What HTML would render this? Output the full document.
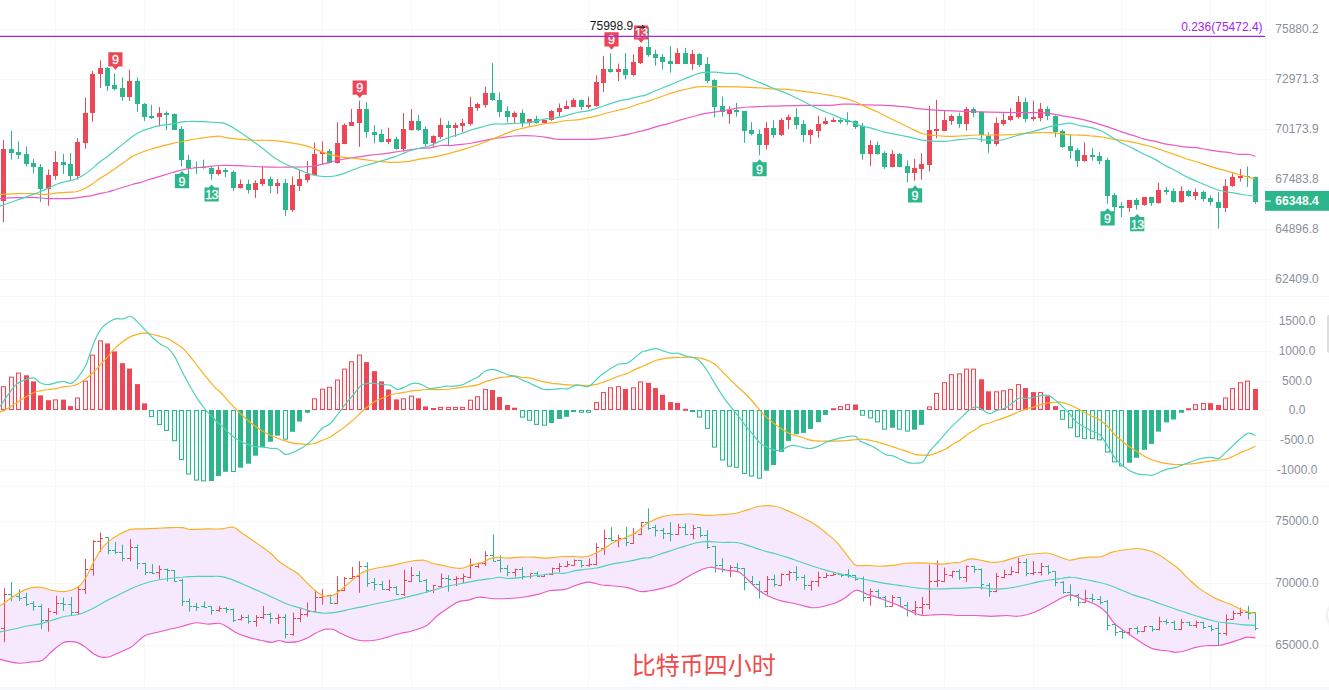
<!DOCTYPE html>
<html lang="zh"><head><meta charset="utf-8"><title>BTC 4H</title>
<style>html,body{margin:0;padding:0;background:#fff;width:1329px;height:690px;overflow:hidden}</style>
</head><body>
<svg width="1329" height="690" viewBox="0 0 1329 690" style="position:absolute;left:0;top:0">
<g stroke="#f5f7f9" stroke-width="1" fill="none"><line x1="55.5" y1="0" x2="55.5" y2="687"/><line x1="144.5" y1="0" x2="144.5" y2="687"/><line x1="233.5" y1="0" x2="233.5" y2="687"/><line x1="322.5" y1="0" x2="322.5" y2="687"/><line x1="411.5" y1="0" x2="411.5" y2="687"/><line x1="499.5" y1="0" x2="499.5" y2="687"/><line x1="588.5" y1="0" x2="588.5" y2="687"/><line x1="677.5" y1="0" x2="677.5" y2="687"/><line x1="766.5" y1="0" x2="766.5" y2="687"/><line x1="855.5" y1="0" x2="855.5" y2="687"/><line x1="944.5" y1="0" x2="944.5" y2="687"/><line x1="1033.5" y1="0" x2="1033.5" y2="687"/><line x1="1121.5" y1="0" x2="1121.5" y2="687"/><line x1="1210.5" y1="0" x2="1210.5" y2="687"/><line x1="0" y1="29.5" x2="1271" y2="29.5"/><line x1="0" y1="79.5" x2="1271" y2="79.5"/><line x1="0" y1="129.5" x2="1271" y2="129.5"/><line x1="0" y1="179.5" x2="1271" y2="179.5"/><line x1="0" y1="229.5" x2="1271" y2="229.5"/><line x1="0" y1="279.5" x2="1271" y2="279.5"/><line x1="0" y1="321.5" x2="1271" y2="321.5"/><line x1="0" y1="351.5" x2="1271" y2="351.5"/><line x1="0" y1="381.5" x2="1271" y2="381.5"/><line x1="0" y1="410.5" x2="1271" y2="410.5"/><line x1="0" y1="440.5" x2="1271" y2="440.5"/><line x1="0" y1="470.5" x2="1271" y2="470.5"/><line x1="0" y1="521.5" x2="1271" y2="521.5"/><line x1="0" y1="583.5" x2="1271" y2="583.5"/><line x1="0" y1="645.5" x2="1271" y2="645.5"/><line x1="0" y1="296.5" x2="1329" y2="296.5"/><line x1="0" y1="486.5" x2="1329" y2="486.5"/><line x1="0" y1="687.5" x2="1329" y2="687.5"/><line x1="1265.5" y1="0" x2="1265.5" y2="687"/></g>
<rect x="0" y="687.7" width="1329" height="2.3" fill="#f7f8f9"/>
<path d="M0.0 605.9 L13.0 596.7 L26.1 589.4 L39.1 587.1 L52.2 590.2 L65.2 591.5 L78.2 586.8 L86.1 577.2 L93.9 561.5 L101.7 548.5 L109.5 540.6 L117.4 535.4 L130.4 529.4 L143.5 528.9 L156.5 528.4 L169.5 527.6 L182.6 527.6 L190.4 529.4 L208.7 528.9 L221.7 528.9 L233.4 527.3 L242.6 533.6 L253.0 540.6 L260.8 545.9 L271.3 553.7 L279.1 561.5 L286.9 566.7 L297.3 573.2 L307.8 583.7 L315.6 591.0 L323.4 596.2 L325.0 596.2 L332.8 595.4 L340.6 590.2 L351.1 581.1 L358.9 574.6 L366.7 570.6 L377.2 568.0 L390.2 565.9 L403.2 562.8 L413.7 560.7 L424.1 560.2 L431.9 563.3 L442.4 565.4 L455.4 568.0 L463.2 568.0 L471.1 564.9 L481.5 562.8 L489.3 558.9 L497.1 557.1 L507.6 558.1 L520.6 557.1 L533.7 557.1 L546.7 558.1 L559.7 556.8 L572.8 556.3 L580.6 557.1 L588.4 556.3 L596.3 552.9 L604.1 548.5 L611.9 543.3 L619.7 539.9 L627.6 536.7 L635.4 532.8 L643.2 526.3 L649.7 521.9 L663.0 516.4 L676.1 514.6 L691.7 514.0 L707.4 515.3 L723.0 514.6 L736.1 513.3 L746.5 510.1 L759.5 506.2 L775.2 506.2 L785.6 509.9 L796.1 514.6 L806.5 519.8 L816.9 525.8 L827.4 534.1 L835.2 540.6 L843.0 549.8 L850.8 560.2 L856.1 565.4 L866.5 565.4 L879.5 566.2 L892.6 565.4 L905.6 563.3 L918.6 562.8 L931.7 563.3 L942.1 564.1 L952.6 562.8 L960.0 562.3 L970.4 558.9 L980.9 560.2 L991.3 562.3 L1001.7 561.5 L1012.2 558.4 L1022.6 555.5 L1035.6 553.7 L1048.7 553.2 L1059.1 556.8 L1069.5 560.2 L1080.0 558.1 L1090.4 557.1 L1100.8 556.8 L1111.3 552.4 L1121.7 550.3 L1137.4 548.5 L1147.8 550.3 L1158.2 554.5 L1168.7 561.5 L1179.1 569.3 L1189.5 579.8 L1200.0 588.9 L1210.4 595.4 L1220.8 600.6 L1231.3 604.5 L1241.7 609.8 L1249.5 612.4 L1255.5 613.2 L1255.5 637.9 L1246.9 637.1 L1239.1 639.8 L1228.6 643.1 L1218.2 645.5 L1205.2 645.8 L1194.7 647.6 L1184.3 651.0 L1175.2 652.3 L1168.7 651.0 L1160.8 650.2 L1153.0 648.9 L1145.2 645.0 L1137.4 639.8 L1129.5 634.5 L1121.7 629.3 L1113.9 622.8 L1106.1 612.4 L1098.2 605.9 L1087.8 601.4 L1077.4 597.2 L1069.5 594.9 L1059.1 599.3 L1048.7 605.1 L1038.2 610.5 L1027.8 614.5 L1017.4 616.3 L1006.9 615.5 L991.3 616.3 L975.6 615.5 L960.0 615.5 L952.6 615.0 L942.1 614.5 L931.7 615.0 L922.6 615.5 L916.0 613.7 L908.2 610.3 L897.8 605.1 L887.4 601.2 L876.9 597.2 L866.5 594.1 L856.1 590.2 L845.6 597.5 L837.8 601.9 L830.0 604.5 L819.5 607.2 L811.7 607.7 L803.9 605.9 L793.5 603.2 L783.0 601.4 L772.6 598.0 L762.2 592.8 L754.3 586.3 L746.5 578.5 L738.7 571.9 L728.2 570.6 L717.8 568.6 L710.0 567.2 L702.2 569.3 L689.1 575.9 L676.1 583.7 L663.0 588.1 L649.7 590.7 L640.6 591.5 L627.6 587.6 L611.9 585.8 L601.5 585.0 L591.0 582.4 L585.8 582.4 L575.4 585.5 L565.0 589.4 L549.3 590.7 L538.9 594.1 L523.2 597.2 L507.6 598.5 L491.9 598.5 L478.9 597.2 L468.5 600.1 L458.0 601.9 L447.6 608.5 L437.2 615.8 L426.7 625.4 L411.1 631.2 L400.6 633.2 L387.6 637.1 L374.6 640.3 L358.9 640.3 L343.3 634.5 L332.8 629.3 L325.0 629.3 L323.4 629.8 L315.6 633.2 L307.8 637.7 L297.3 641.6 L286.9 642.4 L279.1 640.5 L271.3 642.4 L260.8 640.3 L247.8 637.1 L234.7 631.9 L226.9 626.7 L219.1 623.3 L208.7 624.1 L195.6 622.8 L182.6 626.2 L169.5 629.3 L156.5 632.5 L146.1 635.1 L138.2 641.1 L130.4 647.6 L117.4 653.3 L109.5 656.7 L101.7 657.2 L93.9 654.1 L86.1 647.6 L78.2 642.9 L70.4 641.6 L62.6 642.9 L52.2 651.0 L41.7 660.6 L31.3 661.9 L19.6 663.2 L10.4 661.9 L0.0 659.3 Z" fill="#f6e8fd" stroke="none"/>
<g stroke-width="1" fill="none"><path d="M4.50 588.2V642.2M4.50 594.5h2.6M4.50 628.5h-3.5" stroke="#eb4757"/><path d="M11.50 582.0V601.4M11.50 596.5h2.6M11.50 594.5h-3.5" stroke="#2db58c"/><path d="M19.50 589.1V601.0M19.50 598.5h2.6M19.50 596.5h-3.5" stroke="#2db58c"/><path d="M26.50 592.6V606.1M26.50 604.5h2.6M26.50 597.5h-3.5" stroke="#2db58c"/><path d="M33.50 601.0V610.6M33.50 606.5h2.6M33.50 603.5h-3.5" stroke="#2db58c"/><path d="M41.50 604.3V629.1M41.50 620.5h2.6M41.50 606.5h-3.5" stroke="#2db58c"/><path d="M48.50 608.0V631.7M48.50 611.5h2.6M48.50 620.5h-3.5" stroke="#eb4757"/><path d="M56.50 595.8V614.7M56.50 603.5h2.6M56.50 612.5h-3.5" stroke="#eb4757"/><path d="M63.50 597.5V611.0M63.50 604.5h2.6M63.50 603.5h-3.5" stroke="#2db58c"/><path d="M71.50 597.0V615.7M71.50 612.5h2.6M71.50 604.5h-3.5" stroke="#2db58c"/><path d="M78.50 587.0V614.7M78.50 589.5h2.6M78.50 612.5h-3.5" stroke="#eb4757"/><path d="M85.50 559.0V594.0M85.50 569.5h2.6M85.50 589.5h-3.5" stroke="#eb4757"/><path d="M93.50 540.1V575.7M93.50 541.5h2.6M93.50 569.5h-3.5" stroke="#eb4757"/><path d="M100.50 532.5V552.1M100.50 538.5h2.6M100.50 541.5h-3.5" stroke="#eb4757"/><path d="M108.50 537.3V554.3M108.50 550.5h2.6M108.50 537.5h-3.5" stroke="#2db58c"/><path d="M115.50 541.9V553.9M115.50 552.5h2.6M115.50 550.5h-3.5" stroke="#2db58c"/><path d="M122.50 544.7V561.3M122.50 558.5h2.6M122.50 552.5h-3.5" stroke="#2db58c"/><path d="M130.50 539.1V561.3M130.50 547.5h2.6M130.50 558.5h-3.5" stroke="#eb4757"/><path d="M137.50 544.7V568.9M137.50 563.5h2.6M137.50 547.5h-3.5" stroke="#2db58c"/><path d="M145.50 562.8V575.2M145.50 572.5h2.6M145.50 563.5h-3.5" stroke="#2db58c"/><path d="M152.50 564.0V573.9M152.50 573.5h2.6M152.50 572.5h-3.5" stroke="#2db58c"/><path d="M159.50 565.5V578.9M159.50 569.5h2.6M159.50 572.5h-3.5" stroke="#eb4757"/><path d="M167.50 568.5V581.5M167.50 570.5h2.6M167.50 569.5h-3.5" stroke="#2db58c"/><path d="M174.50 570.0V581.5M174.50 581.5h2.6M174.50 570.5h-3.5" stroke="#2db58c"/><path d="M182.50 578.8V606.1M182.50 601.5h2.6M182.50 580.5h-3.5" stroke="#2db58c"/><path d="M189.50 598.4V611.7M189.50 606.5h2.6M189.50 601.5h-3.5" stroke="#2db58c"/><path d="M196.50 602.8V610.9M196.50 607.5h2.6M196.50 606.5h-3.5" stroke="#2db58c"/><path d="M204.50 601.4V607.5M204.50 607.5h2.6M204.50 606.5h-3.5" stroke="#2db58c"/><path d="M211.50 606.3V614.7M211.50 610.5h2.6M211.50 606.5h-3.5" stroke="#2db58c"/><path d="M219.50 605.9V611.9M219.50 608.5h2.6M219.50 610.5h-3.5" stroke="#eb4757"/><path d="M226.50 607.1V613.1M226.50 609.5h2.6M226.50 608.5h-3.5" stroke="#2db58c"/><path d="M233.50 608.6V622.2M233.50 620.5h2.6M233.50 609.5h-3.5" stroke="#2db58c"/><path d="M241.50 614.6V620.5M241.50 617.5h2.6M241.50 619.5h-3.5" stroke="#eb4757"/><path d="M248.50 614.6V623.7M248.50 621.5h2.6M248.50 617.5h-3.5" stroke="#2db58c"/><path d="M256.50 615.1V626.7M256.50 617.5h2.6M256.50 621.5h-3.5" stroke="#eb4757"/><path d="M263.50 606.0V618.9M263.50 614.5h2.6M263.50 617.5h-3.5" stroke="#eb4757"/><path d="M270.50 612.6V623.6M270.50 618.5h2.6M270.50 614.5h-3.5" stroke="#2db58c"/><path d="M278.50 614.2V624.1M278.50 617.5h2.6M278.50 618.5h-3.5" stroke="#eb4757"/><path d="M285.50 614.2V638.2M285.50 634.5h2.6M285.50 617.5h-3.5" stroke="#2db58c"/><path d="M293.50 612.6V635.6M293.50 618.5h2.6M293.50 634.5h-3.5" stroke="#eb4757"/><path d="M300.50 608.3V622.2M300.50 614.5h2.6M300.50 618.5h-3.5" stroke="#eb4757"/><path d="M307.50 602.5V616.6M307.50 611.5h2.6M307.50 614.5h-3.5" stroke="#eb4757"/><path d="M315.50 589.9V611.8M315.50 597.5h2.6M315.50 611.5h-3.5" stroke="#eb4757"/><path d="M322.50 589.1V604.7M322.50 596.5h2.6M322.50 597.5h-3.5" stroke="#eb4757"/><path d="M330.50 594.3V604.1M330.50 603.5h2.6M330.50 595.5h-3.5" stroke="#2db58c"/><path d="M337.50 576.1V604.1M337.50 590.5h2.6M337.50 603.5h-3.5" stroke="#eb4757"/><path d="M344.50 576.9V591.0M344.50 578.5h2.6M344.50 590.5h-3.5" stroke="#eb4757"/><path d="M352.50 566.9V578.7M352.50 576.5h2.6M352.50 578.5h-3.5" stroke="#eb4757"/><path d="M359.50 561.1V592.8M359.50 566.5h2.6M359.50 576.5h-3.5" stroke="#eb4757"/><path d="M367.50 562.3V586.7M367.50 583.5h2.6M367.50 566.5h-3.5" stroke="#2db58c"/><path d="M374.50 578.0V590.4M374.50 584.5h2.6M374.50 582.5h-3.5" stroke="#2db58c"/><path d="M382.50 581.0V589.9M382.50 589.5h2.6M382.50 584.5h-3.5" stroke="#2db58c"/><path d="M389.50 579.8V591.0M389.50 587.5h2.6M389.50 589.5h-3.5" stroke="#eb4757"/><path d="M396.50 585.9V594.8M396.50 594.5h2.6M396.50 587.5h-3.5" stroke="#2db58c"/><path d="M404.50 569.8V596.0M404.50 580.5h2.6M404.50 594.5h-3.5" stroke="#eb4757"/><path d="M411.50 566.9V581.8M411.50 575.5h2.6M411.50 581.5h-3.5" stroke="#eb4757"/><path d="M419.50 571.1V582.1M419.50 581.5h2.6M419.50 575.5h-3.5" stroke="#2db58c"/><path d="M426.50 578.9V592.7M426.50 590.5h2.6M426.50 580.5h-3.5" stroke="#2db58c"/><path d="M433.50 585.0V593.1M433.50 585.5h2.6M433.50 590.5h-3.5" stroke="#eb4757"/><path d="M441.50 573.3V587.4M441.50 578.5h2.6M441.50 586.5h-3.5" stroke="#eb4757"/><path d="M448.50 575.2V591.7M448.50 579.5h2.6M448.50 578.5h-3.5" stroke="#2db58c"/><path d="M456.50 576.3V586.0M456.50 578.5h2.6M456.50 579.5h-3.5" stroke="#eb4757"/><path d="M463.50 573.7V583.1M463.50 576.5h2.6M463.50 578.5h-3.5" stroke="#eb4757"/><path d="M470.50 558.3V578.5M470.50 565.5h2.6M470.50 577.5h-3.5" stroke="#eb4757"/><path d="M478.50 562.5V568.2M478.50 563.5h2.6M478.50 566.5h-3.5" stroke="#eb4757"/><path d="M485.50 551.2V566.0M485.50 555.5h2.6M485.50 563.5h-3.5" stroke="#eb4757"/><path d="M493.50 534.5V561.3M493.50 561.5h2.6M493.50 555.5h-3.5" stroke="#2db58c"/><path d="M500.50 555.4V572.5M500.50 568.5h2.6M500.50 560.5h-3.5" stroke="#2db58c"/><path d="M507.50 565.0V576.2M507.50 572.5h2.6M507.50 568.5h-3.5" stroke="#2db58c"/><path d="M515.50 568.6V576.6M515.50 569.5h2.6M515.50 572.5h-3.5" stroke="#eb4757"/><path d="M522.50 567.1V579.5M522.50 576.5h2.6M522.50 569.5h-3.5" stroke="#2db58c"/><path d="M530.50 573.7V578.5M530.50 573.5h2.6M530.50 576.5h-3.5" stroke="#eb4757"/><path d="M537.50 571.5V577.0M537.50 576.5h2.6M537.50 573.5h-3.5" stroke="#2db58c"/><path d="M544.50 574.5V577.0M544.50 574.5h2.6M544.50 576.5h-3.5" stroke="#eb4757"/><path d="M552.50 567.6V575.2M552.50 568.5h2.6M552.50 574.5h-3.5" stroke="#eb4757"/><path d="M559.50 563.1V572.3M559.50 566.5h2.6M559.50 568.5h-3.5" stroke="#eb4757"/><path d="M567.50 561.0V566.9M567.50 564.5h2.6M567.50 566.5h-3.5" stroke="#eb4757"/><path d="M574.50 559.4V565.4M574.50 560.5h2.6M574.50 565.5h-3.5" stroke="#eb4757"/><path d="M581.50 560.3V567.5M581.50 565.5h2.6M581.50 560.5h-3.5" stroke="#2db58c"/><path d="M589.50 558.3V566.7M589.50 564.5h2.6M589.50 565.5h-3.5" stroke="#eb4757"/><path d="M596.50 543.2V565.4M596.50 547.5h2.6M596.50 564.5h-3.5" stroke="#eb4757"/><path d="M604.50 529.5V555.0M604.50 538.5h2.6M604.50 548.5h-3.5" stroke="#eb4757"/><path d="M611.50 527.3V541.3M611.50 540.5h2.6M611.50 538.5h-3.5" stroke="#2db58c"/><path d="M618.50 534.8V547.3M618.50 538.5h2.6M618.50 540.5h-3.5" stroke="#eb4757"/><path d="M626.50 527.2V546.2M626.50 542.5h2.6M626.50 538.5h-3.5" stroke="#2db58c"/><path d="M633.50 528.1V543.9M633.50 533.5h2.6M633.50 543.5h-3.5" stroke="#eb4757"/><path d="M641.50 522.0V535.2M641.50 522.5h2.6M641.50 534.5h-3.5" stroke="#eb4757"/><path d="M648.50 508.3V529.8M648.50 528.5h2.6M648.50 522.5h-3.5" stroke="#2db58c"/><path d="M655.50 524.8V536.3M655.50 530.5h2.6M655.50 527.5h-3.5" stroke="#2db58c"/><path d="M663.50 528.0V539.0M663.50 533.5h2.6M663.50 530.5h-3.5" stroke="#2db58c"/><path d="M670.50 522.2V541.4M670.50 534.5h2.6M670.50 533.5h-3.5" stroke="#2db58c"/><path d="M678.50 523.7V535.2M678.50 527.5h2.6M678.50 534.5h-3.5" stroke="#eb4757"/><path d="M685.50 523.4V535.2M685.50 534.5h2.6M685.50 527.5h-3.5" stroke="#2db58c"/><path d="M693.50 524.8V539.3M693.50 528.5h2.6M693.50 534.5h-3.5" stroke="#eb4757"/><path d="M700.50 527.3V537.3M700.50 535.5h2.6M700.50 527.5h-3.5" stroke="#2db58c"/><path d="M707.50 530.1V548.8M707.50 547.5h2.6M707.50 535.5h-3.5" stroke="#2db58c"/><path d="M715.50 546.0V572.7M715.50 565.5h2.6M715.50 546.5h-3.5" stroke="#2db58c"/><path d="M722.50 558.2V572.3M722.50 569.5h2.6M722.50 565.5h-3.5" stroke="#2db58c"/><path d="M730.50 565.1V577.1M730.50 567.5h2.6M730.50 570.5h-3.5" stroke="#eb4757"/><path d="M737.50 562.8V572.3M737.50 568.5h2.6M737.50 567.5h-3.5" stroke="#2db58c"/><path d="M744.50 568.2V590.2M744.50 582.5h2.6M744.50 568.5h-3.5" stroke="#2db58c"/><path d="M752.50 576.0V585.0M752.50 584.5h2.6M752.50 581.5h-3.5" stroke="#2db58c"/><path d="M759.50 581.1V598.5M759.50 591.5h2.6M759.50 584.5h-3.5" stroke="#2db58c"/><path d="M767.50 576.0V594.6M767.50 579.5h2.6M767.50 591.5h-3.5" stroke="#eb4757"/><path d="M774.50 574.7V586.7M774.50 584.5h2.6M774.50 579.5h-3.5" stroke="#2db58c"/><path d="M781.50 573.2V585.5M781.50 574.5h2.6M781.50 585.5h-3.5" stroke="#eb4757"/><path d="M789.50 570.8V580.7M789.50 572.5h2.6M789.50 574.5h-3.5" stroke="#eb4757"/><path d="M796.50 566.3V580.7M796.50 577.5h2.6M796.50 572.5h-3.5" stroke="#2db58c"/><path d="M804.50 574.7V589.7M804.50 585.5h2.6M804.50 577.5h-3.5" stroke="#2db58c"/><path d="M811.50 580.7V590.6M811.50 581.5h2.6M811.50 585.5h-3.5" stroke="#eb4757"/><path d="M818.50 571.6V586.7M818.50 577.5h2.6M818.50 581.5h-3.5" stroke="#eb4757"/><path d="M826.50 572.7V577.8M826.50 575.5h2.6M826.50 577.5h-3.5" stroke="#eb4757"/><path d="M833.50 572.7V575.6M833.50 574.5h2.6M833.50 575.5h-3.5" stroke="#eb4757"/><path d="M841.50 573.6V577.2M841.50 575.5h2.6M841.50 574.5h-3.5" stroke="#2db58c"/><path d="M848.50 569.2V577.8M848.50 575.5h2.6M848.50 574.5h-3.5" stroke="#2db58c"/><path d="M855.50 574.8V580.7M855.50 579.5h2.6M855.50 575.5h-3.5" stroke="#2db58c"/><path d="M863.50 576.5V601.5M863.50 597.5h2.6M863.50 578.5h-3.5" stroke="#2db58c"/><path d="M870.50 588.5V605.6M870.50 591.5h2.6M870.50 597.5h-3.5" stroke="#eb4757"/><path d="M878.50 589.2V598.1M878.50 597.5h2.6M878.50 591.5h-3.5" stroke="#2db58c"/><path d="M885.50 595.8V607.5M885.50 606.5h2.6M885.50 597.5h-3.5" stroke="#2db58c"/><path d="M892.50 595.1V606.5M892.50 597.5h2.6M892.50 606.5h-3.5" stroke="#eb4757"/><path d="M900.50 597.0V606.5M900.50 606.5h2.6M900.50 597.5h-3.5" stroke="#2db58c"/><path d="M907.50 602.0V616.5M907.50 610.5h2.6M907.50 605.5h-3.5" stroke="#2db58c"/><path d="M915.50 600.9V615.4M915.50 607.5h2.6M915.50 610.5h-3.5" stroke="#eb4757"/><path d="M922.50 597.0V614.6M922.50 604.5h2.6M922.50 607.5h-3.5" stroke="#eb4757"/><path d="M929.50 564.6V609.3M929.50 581.5h2.6M929.50 604.5h-3.5" stroke="#eb4757"/><path d="M937.50 560.5V587.1M937.50 580.5h2.6M937.50 581.5h-3.5" stroke="#eb4757"/><path d="M944.50 567.6V582.2M944.50 574.5h2.6M944.50 581.5h-3.5" stroke="#eb4757"/><path d="M952.50 570.7V577.8M952.50 571.5h2.6M952.50 575.5h-3.5" stroke="#eb4757"/><path d="M959.50 569.4V579.9M959.50 577.5h2.6M959.50 571.5h-3.5" stroke="#2db58c"/><path d="M966.50 565.3V581.9M966.50 566.5h2.6M966.50 577.5h-3.5" stroke="#eb4757"/><path d="M974.50 565.8V572.6M974.50 569.5h2.6M974.50 566.5h-3.5" stroke="#2db58c"/><path d="M981.50 568.4V589.6M981.50 584.5h2.6M981.50 569.5h-3.5" stroke="#2db58c"/><path d="M989.50 583.0V596.8M989.50 591.5h2.6M989.50 585.5h-3.5" stroke="#2db58c"/><path d="M996.50 572.9V592.2M996.50 576.5h2.6M996.50 591.5h-3.5" stroke="#eb4757"/><path d="M1004.50 569.9V578.5M1004.50 574.5h2.6M1004.50 577.5h-3.5" stroke="#eb4757"/><path d="M1011.50 566.4V575.2M1011.50 571.5h2.6M1011.50 574.5h-3.5" stroke="#eb4757"/><path d="M1018.50 557.8V573.6M1018.50 562.5h2.6M1018.50 572.5h-3.5" stroke="#eb4757"/><path d="M1026.50 558.8V576.2M1026.50 573.5h2.6M1026.50 562.5h-3.5" stroke="#2db58c"/><path d="M1033.50 561.1V575.2M1033.50 572.5h2.6M1033.50 573.5h-3.5" stroke="#eb4757"/><path d="M1041.50 562.8V575.4M1041.50 566.5h2.6M1041.50 572.5h-3.5" stroke="#eb4757"/><path d="M1048.50 565.1V574.7M1048.50 572.5h2.6M1048.50 566.5h-3.5" stroke="#2db58c"/><path d="M1055.50 571.4V586.3M1055.50 582.5h2.6M1055.50 571.5h-3.5" stroke="#2db58c"/><path d="M1063.50 581.1V593.6M1063.50 592.5h2.6M1063.50 582.5h-3.5" stroke="#2db58c"/><path d="M1070.50 584.3V600.9M1070.50 595.5h2.6M1070.50 592.5h-3.5" stroke="#2db58c"/><path d="M1078.50 593.7V606.3M1078.50 602.5h2.6M1078.50 595.5h-3.5" stroke="#2db58c"/><path d="M1085.50 589.8V602.9M1085.50 598.5h2.6M1085.50 602.5h-3.5" stroke="#eb4757"/><path d="M1092.50 593.7V602.1M1092.50 599.5h2.6M1092.50 598.5h-3.5" stroke="#2db58c"/><path d="M1100.50 596.2V604.6M1100.50 602.5h2.6M1100.50 599.5h-3.5" stroke="#2db58c"/><path d="M1107.50 600.1V630.3M1107.50 625.5h2.6M1107.50 601.5h-3.5" stroke="#2db58c"/><path d="M1115.50 623.5V635.9M1115.50 632.5h2.6M1115.50 624.5h-3.5" stroke="#2db58c"/><path d="M1122.50 629.4V638.8M1122.50 632.5h2.6M1122.50 631.5h-3.5" stroke="#2db58c"/><path d="M1129.50 628.0V635.5M1129.50 628.5h2.6M1129.50 632.5h-3.5" stroke="#eb4757"/><path d="M1137.50 626.7V634.1M1137.50 631.5h2.6M1137.50 628.5h-3.5" stroke="#2db58c"/><path d="M1144.50 626.1V631.7M1144.50 626.5h2.6M1144.50 631.5h-3.5" stroke="#eb4757"/><path d="M1152.50 626.0V631.7M1152.50 629.5h2.6M1152.50 626.5h-3.5" stroke="#2db58c"/><path d="M1159.50 616.8V630.3M1159.50 621.5h2.6M1159.50 629.5h-3.5" stroke="#eb4757"/><path d="M1166.50 619.4V624.6M1166.50 622.5h2.6M1166.50 621.5h-3.5" stroke="#2db58c"/><path d="M1174.50 620.5V629.8M1174.50 629.5h2.6M1174.50 622.5h-3.5" stroke="#2db58c"/><path d="M1181.50 619.1V629.8M1181.50 622.5h2.6M1181.50 629.5h-3.5" stroke="#eb4757"/><path d="M1189.50 621.5V626.0M1189.50 625.5h2.6M1189.50 622.5h-3.5" stroke="#2db58c"/><path d="M1196.50 620.5V628.0M1196.50 622.5h2.6M1196.50 625.5h-3.5" stroke="#eb4757"/><path d="M1203.50 621.8V629.0M1203.50 627.5h2.6M1203.50 622.5h-3.5" stroke="#2db58c"/><path d="M1211.50 624.9V631.4M1211.50 629.5h2.6M1211.50 626.5h-3.5" stroke="#2db58c"/><path d="M1218.50 623.0V646.2M1218.50 633.5h2.6M1218.50 628.5h-3.5" stroke="#2db58c"/><path d="M1226.50 614.3V635.7M1226.50 619.5h2.6M1226.50 633.5h-3.5" stroke="#eb4757"/><path d="M1233.50 610.6V619.4M1233.50 613.5h2.6M1233.50 619.5h-3.5" stroke="#eb4757"/><path d="M1240.50 607.6V616.0M1240.50 612.5h2.6M1240.50 613.5h-3.5" stroke="#eb4757"/><path d="M1248.50 606.0V619.4M1248.50 613.5h2.6M1248.50 612.5h-3.5" stroke="#2db58c"/><path d="M1255.50 612.7V630.3M1255.50 628.5h2.6M1255.50 612.5h-3.5" stroke="#2db58c"/></g>
<path d="M0.0 631.9 C2.2 631.5 8.7 630.3 13.0 629.3 C17.4 628.4 21.7 627.1 26.1 626.2 C30.4 625.3 34.8 625.1 39.1 624.1 C43.5 623.1 47.8 621.5 52.2 620.2 C56.5 618.9 60.9 617.2 65.2 616.3 C69.6 615.3 73.9 615.6 78.2 614.5 C82.6 613.3 86.9 611.3 91.3 609.2 C95.6 607.2 100.0 604.2 104.3 601.9 C108.7 599.6 113.0 597.6 117.4 595.4 C121.7 593.2 126.1 590.9 130.4 588.9 C134.8 586.9 139.1 585.1 143.5 583.7 C147.8 582.2 152.1 581.2 156.5 580.3 C160.8 579.4 165.2 579.0 169.5 578.5 C173.9 577.9 178.2 577.5 182.6 577.2 C186.9 576.8 191.3 576.5 195.6 576.4 C200.0 576.2 204.3 576.3 208.7 576.4 C213.0 576.4 217.4 575.9 221.7 576.6 C226.0 577.3 230.4 578.9 234.7 580.6 C239.1 582.2 243.4 584.4 247.8 586.3 C252.1 588.2 256.5 590.1 260.8 592.0 C265.2 594.0 269.5 596.0 273.9 598.0 C278.2 600.0 282.6 602.4 286.9 604.0 C291.3 605.7 295.6 606.7 299.9 607.9 C304.3 609.2 309.1 610.7 313.0 611.6 C316.9 612.5 321.4 612.9 323.4 613.2 C325.4 613.4 323.0 613.3 325.0 613.2 C327.0 613.0 331.1 613.1 335.4 612.4 C339.8 611.7 345.9 610.1 351.1 609.0 C356.3 607.9 361.5 606.9 366.7 605.9 C371.9 604.8 377.2 603.5 382.4 602.5 C387.6 601.4 392.8 600.5 398.0 599.3 C403.2 598.2 408.5 596.7 413.7 595.4 C418.9 594.1 424.1 592.9 429.3 591.5 C434.5 590.1 439.8 588.1 445.0 586.8 C450.2 585.5 455.4 584.7 460.6 583.7 C465.8 582.6 471.1 581.4 476.3 580.6 C481.5 579.7 488.0 579.0 491.9 578.5 C495.8 577.9 497.1 577.2 499.8 577.2 C502.4 577.2 503.7 578.5 507.6 578.5 C511.5 578.5 518.0 577.7 523.2 577.2 C528.4 576.6 533.7 576.0 538.9 575.3 C544.1 574.7 550.2 573.6 554.5 573.2 C558.9 572.9 561.5 573.7 565.0 573.2 C568.4 572.8 571.9 571.3 575.4 570.6 C578.9 570.0 582.3 569.8 585.8 569.3 C589.3 568.9 591.9 568.9 596.3 568.0 C600.6 567.2 606.7 565.2 611.9 564.1 C617.1 563.0 622.3 562.5 627.6 561.5 C632.8 560.5 639.5 558.8 643.2 558.1 C646.9 557.5 646.3 558.6 650.0 557.6 C653.7 556.6 660.4 554.1 665.6 552.4 C670.9 550.6 676.1 548.8 681.3 547.2 C686.5 545.6 692.6 543.7 696.9 542.7 C701.3 541.8 703.0 541.5 707.4 541.4 C711.7 541.4 718.2 542.3 723.0 542.5 C727.8 542.6 731.7 541.9 736.1 542.5 C740.4 543.0 744.8 544.6 749.1 545.9 C753.5 547.2 757.8 549.0 762.2 550.3 C766.5 551.6 770.8 552.5 775.2 553.7 C779.5 554.9 783.9 556.2 788.2 557.6 C792.6 559.0 796.9 560.8 801.3 562.3 C805.6 563.8 810.0 565.3 814.3 566.7 C818.7 568.1 823.0 569.4 827.4 570.6 C831.7 571.9 836.1 572.9 840.4 574.0 C844.7 575.1 849.1 576.2 853.4 577.2 C857.8 578.1 862.1 578.9 866.5 579.8 C870.8 580.6 875.2 581.6 879.5 582.4 C883.9 583.2 888.2 583.8 892.6 584.5 C896.9 585.1 901.3 585.7 905.6 586.3 C910.0 586.9 914.7 587.7 918.6 588.1 C922.6 588.5 925.2 588.8 929.1 588.9 C933.0 589.0 938.2 589.0 942.1 588.9 C946.0 588.8 949.6 588.5 952.6 588.4 C955.5 588.3 957.0 588.5 960.0 588.4 C963.0 588.2 967.0 587.7 970.4 587.6 C973.9 587.5 977.4 587.4 980.9 587.6 C984.3 587.8 987.8 588.7 991.3 588.9 C994.8 589.1 998.3 589.1 1001.7 588.9 C1005.2 588.7 1008.3 588.2 1012.2 587.6 C1016.1 586.9 1020.9 585.9 1025.2 585.0 C1029.6 584.0 1033.9 582.7 1038.2 581.9 C1042.6 581.0 1047.4 580.3 1051.3 579.8 C1055.2 579.2 1058.5 578.9 1061.7 578.5 C1065.0 578.0 1067.4 577.1 1070.9 577.2 C1074.3 577.2 1078.5 578.2 1082.6 579.0 C1086.7 579.7 1091.3 580.6 1095.6 581.6 C1100.0 582.6 1104.3 583.5 1108.7 585.0 C1113.0 586.4 1117.4 588.5 1121.7 590.2 C1126.1 591.9 1130.4 593.9 1134.8 595.4 C1139.1 596.9 1143.4 597.9 1147.8 599.3 C1152.1 600.8 1156.5 602.5 1160.8 604.0 C1165.2 605.5 1169.5 607.0 1173.9 608.5 C1178.2 609.9 1182.6 611.5 1186.9 612.9 C1191.3 614.3 1195.6 615.8 1200.0 617.1 C1204.3 618.4 1209.5 619.8 1213.0 620.7 C1216.5 621.6 1217.8 621.8 1220.8 622.3 C1223.9 622.7 1227.8 622.9 1231.3 623.3 C1234.7 623.7 1237.6 624.3 1241.7 624.6 C1245.7 625.0 1253.2 625.3 1255.5 625.4" fill="none" stroke="#4fd1b9" stroke-width="1.15"/>
<path d="M0.0 605.9 C2.2 604.3 8.7 599.5 13.0 596.7 C17.4 594.0 21.7 591.0 26.1 589.4 C30.4 587.8 34.8 586.9 39.1 587.1 C43.5 587.2 47.8 589.5 52.2 590.2 C56.5 590.9 60.9 592.1 65.2 591.5 C69.6 590.9 74.8 589.2 78.2 586.8 C81.7 584.4 83.5 581.4 86.1 577.2 C88.7 572.9 91.3 566.3 93.9 561.5 C96.5 556.7 99.1 551.9 101.7 548.5 C104.3 545.0 106.9 542.8 109.5 540.6 C112.2 538.5 113.9 537.3 117.4 535.4 C120.8 533.6 126.1 530.5 130.4 529.4 C134.8 528.3 139.1 529.1 143.5 528.9 C147.8 528.7 152.1 528.6 156.5 528.4 C160.8 528.2 165.2 527.7 169.5 527.6 C173.9 527.5 179.1 527.3 182.6 527.6 C186.1 527.9 186.1 529.2 190.4 529.4 C194.7 529.6 203.4 529.0 208.7 528.9 C213.9 528.8 217.6 529.2 221.7 528.9 C225.8 528.6 230.0 526.6 233.4 527.3 C236.9 528.1 239.3 531.4 242.6 533.6 C245.8 535.8 250.0 538.6 253.0 540.6 C256.0 542.7 257.8 543.7 260.8 545.9 C263.9 548.0 268.2 551.1 271.3 553.7 C274.3 556.3 276.5 559.3 279.1 561.5 C281.7 563.7 283.9 564.8 286.9 566.7 C289.9 568.7 293.9 570.4 297.3 573.2 C300.8 576.1 304.7 580.7 307.8 583.7 C310.8 586.6 313.0 588.9 315.6 591.0 C318.2 593.1 321.9 595.3 323.4 596.2 C325.0 597.1 323.4 596.3 325.0 596.2 C326.6 596.1 330.2 596.4 332.8 595.4 C335.4 594.4 337.6 592.6 340.6 590.2 C343.7 587.8 348.0 583.7 351.1 581.1 C354.1 578.5 356.3 576.3 358.9 574.6 C361.5 572.8 363.7 571.7 366.7 570.6 C369.8 569.6 373.3 568.8 377.2 568.0 C381.1 567.2 385.9 566.8 390.2 565.9 C394.6 565.1 399.3 563.7 403.2 562.8 C407.2 561.9 410.2 561.2 413.7 560.7 C417.2 560.3 421.1 559.8 424.1 560.2 C427.2 560.6 428.9 562.5 431.9 563.3 C435.0 564.2 438.5 564.6 442.4 565.4 C446.3 566.2 451.9 567.6 455.4 568.0 C458.9 568.5 460.6 568.6 463.2 568.0 C465.8 567.5 468.0 565.8 471.1 564.9 C474.1 564.0 478.5 563.8 481.5 562.8 C484.5 561.8 486.7 559.9 489.3 558.9 C491.9 557.9 494.1 557.2 497.1 557.1 C500.2 556.9 503.7 558.1 507.6 558.1 C511.5 558.1 516.3 557.3 520.6 557.1 C525.0 556.9 529.3 556.9 533.7 557.1 C538.0 557.3 542.4 558.2 546.7 558.1 C551.0 558.1 555.4 557.1 559.7 556.8 C564.1 556.5 569.3 556.3 572.8 556.3 C576.3 556.3 578.0 557.1 580.6 557.1 C583.2 557.1 585.8 557.0 588.4 556.3 C591.0 555.6 593.6 554.2 596.3 552.9 C598.9 551.6 601.5 550.1 604.1 548.5 C606.7 546.9 609.3 544.7 611.9 543.3 C614.5 541.8 617.1 540.9 619.7 539.9 C622.3 538.8 624.9 537.9 627.6 536.7 C630.2 535.6 632.8 534.6 635.4 532.8 C638.0 531.1 640.8 528.1 643.2 526.3 C645.6 524.5 646.4 523.5 649.7 521.9 C653.0 520.2 658.6 517.6 663.0 516.4 C667.4 515.2 671.3 515.0 676.1 514.6 C680.9 514.2 686.5 513.9 691.7 514.0 C696.9 514.2 702.2 515.3 707.4 515.3 C712.6 515.4 718.2 514.9 723.0 514.6 C727.8 514.2 732.2 514.0 736.1 513.3 C740.0 512.5 742.6 511.3 746.5 510.1 C750.4 509.0 754.8 506.9 759.5 506.2 C764.3 505.6 770.8 505.6 775.2 506.2 C779.5 506.8 782.2 508.5 785.6 509.9 C789.1 511.3 792.6 512.9 796.1 514.6 C799.5 516.2 803.0 517.9 806.5 519.8 C810.0 521.6 813.4 523.4 816.9 525.8 C820.4 528.2 824.3 531.6 827.4 534.1 C830.4 536.6 832.6 538.0 835.2 540.6 C837.8 543.3 840.4 546.5 843.0 549.8 C845.6 553.0 848.7 557.6 850.8 560.2 C853.0 562.8 853.4 564.6 856.1 565.4 C858.7 566.3 862.6 565.3 866.5 565.4 C870.4 565.6 875.2 566.2 879.5 566.2 C883.9 566.2 888.2 565.9 892.6 565.4 C896.9 564.9 901.3 563.8 905.6 563.3 C910.0 562.9 914.3 562.8 918.6 562.8 C923.0 562.8 927.8 563.1 931.7 563.3 C935.6 563.6 938.6 564.2 942.1 564.1 C945.6 564.0 949.6 563.1 952.6 562.8 C955.5 562.5 957.0 562.9 960.0 562.3 C963.0 561.6 967.0 559.2 970.4 558.9 C973.9 558.6 977.4 559.6 980.9 560.2 C984.3 560.8 987.8 562.1 991.3 562.3 C994.8 562.5 998.3 562.2 1001.7 561.5 C1005.2 560.9 1008.7 559.4 1012.2 558.4 C1015.6 557.4 1018.7 556.3 1022.6 555.5 C1026.5 554.7 1031.3 554.1 1035.6 553.7 C1040.0 553.3 1044.8 552.6 1048.7 553.2 C1052.6 553.7 1055.6 555.6 1059.1 556.8 C1062.6 558.0 1066.1 560.0 1069.5 560.2 C1073.0 560.4 1076.5 558.6 1080.0 558.1 C1083.5 557.6 1086.9 557.3 1090.4 557.1 C1093.9 556.9 1097.4 557.6 1100.8 556.8 C1104.3 556.0 1107.8 553.5 1111.3 552.4 C1114.8 551.3 1117.4 550.9 1121.7 550.3 C1126.1 549.6 1133.0 548.5 1137.4 548.5 C1141.7 548.5 1144.3 549.3 1147.8 550.3 C1151.3 551.3 1154.7 552.6 1158.2 554.5 C1161.7 556.3 1165.2 559.0 1168.7 561.5 C1172.1 564.0 1175.6 566.3 1179.1 569.3 C1182.6 572.4 1186.0 576.5 1189.5 579.8 C1193.0 583.0 1196.5 586.3 1200.0 588.9 C1203.4 591.5 1206.9 593.5 1210.4 595.4 C1213.9 597.4 1217.3 599.1 1220.8 600.6 C1224.3 602.2 1227.8 603.0 1231.3 604.5 C1234.7 606.1 1238.6 608.5 1241.7 609.8 C1244.7 611.1 1247.2 611.8 1249.5 612.4 C1251.8 612.9 1254.5 613.0 1255.5 613.2" fill="none" stroke="#f9b120" stroke-width="1.15"/>
<path d="M0.0 659.3 C1.7 659.8 7.2 661.3 10.4 661.9 C13.7 662.6 16.1 663.2 19.6 663.2 C23.0 663.2 27.6 662.4 31.3 661.9 C35.0 661.5 38.3 662.4 41.7 660.6 C45.2 658.8 48.7 653.9 52.2 651.0 C55.6 648.0 59.6 644.5 62.6 642.9 C65.6 641.3 67.8 641.6 70.4 641.6 C73.0 641.6 75.6 641.9 78.2 642.9 C80.9 643.9 83.5 645.7 86.1 647.6 C88.7 649.5 91.3 652.5 93.9 654.1 C96.5 655.7 99.1 656.8 101.7 657.2 C104.3 657.7 106.9 657.4 109.5 656.7 C112.2 656.1 113.9 654.8 117.4 653.3 C120.8 651.8 126.9 649.6 130.4 647.6 C133.9 645.5 135.6 643.1 138.2 641.1 C140.8 639.0 143.0 636.5 146.1 635.1 C149.1 633.6 152.6 633.4 156.5 632.5 C160.4 631.5 165.2 630.4 169.5 629.3 C173.9 628.3 178.2 627.3 182.6 626.2 C186.9 625.1 191.3 623.2 195.6 622.8 C200.0 622.5 204.7 624.0 208.7 624.1 C212.6 624.2 216.0 622.9 219.1 623.3 C222.1 623.8 224.3 625.3 226.9 626.7 C229.5 628.2 231.3 630.2 234.7 631.9 C238.2 633.7 243.4 635.8 247.8 637.1 C252.1 638.5 256.9 639.4 260.8 640.3 C264.7 641.1 268.2 642.3 271.3 642.4 C274.3 642.4 276.5 640.5 279.1 640.5 C281.7 640.5 283.9 642.2 286.9 642.4 C289.9 642.5 293.9 642.4 297.3 641.6 C300.8 640.8 304.7 639.1 307.8 637.7 C310.8 636.3 313.0 634.5 315.6 633.2 C318.2 631.9 321.9 630.5 323.4 629.8 C325.0 629.2 323.4 629.4 325.0 629.3 C326.6 629.2 329.8 628.5 332.8 629.3 C335.9 630.2 338.9 632.7 343.3 634.5 C347.6 636.4 353.7 639.3 358.9 640.3 C364.1 641.2 369.8 640.8 374.6 640.3 C379.3 639.8 383.3 638.3 387.6 637.1 C391.9 636.0 396.7 634.2 400.6 633.2 C404.6 632.2 406.7 632.5 411.1 631.2 C415.4 629.8 422.4 628.0 426.7 625.4 C431.1 622.8 433.7 618.6 437.2 615.8 C440.6 612.9 444.1 610.8 447.6 608.5 C451.1 606.2 454.5 603.3 458.0 601.9 C461.5 600.5 465.0 600.9 468.5 600.1 C471.9 599.3 475.0 597.5 478.9 597.2 C482.8 597.0 487.1 598.3 491.9 598.5 C496.7 598.8 502.4 598.8 507.6 598.5 C512.8 598.3 518.0 598.0 523.2 597.2 C528.4 596.5 534.5 595.2 538.9 594.1 C543.2 593.0 545.0 591.5 549.3 590.7 C553.7 589.9 560.6 590.3 565.0 589.4 C569.3 588.5 571.9 586.7 575.4 585.5 C578.9 584.3 583.2 582.9 585.8 582.4 C588.4 581.9 588.4 581.9 591.0 582.4 C593.6 582.8 598.0 584.4 601.5 585.0 C605.0 585.5 607.6 585.3 611.9 585.8 C616.3 586.2 622.8 586.6 627.6 587.6 C632.3 588.5 636.9 591.0 640.6 591.5 C644.3 592.0 646.0 591.3 649.7 590.7 C653.5 590.2 658.6 589.3 663.0 588.1 C667.4 586.9 671.7 585.7 676.1 583.7 C680.4 581.6 684.8 578.2 689.1 575.9 C693.5 573.5 698.7 570.8 702.2 569.3 C705.6 567.9 707.4 567.4 710.0 567.2 C712.6 567.1 714.8 568.0 717.8 568.6 C720.9 569.1 724.8 570.1 728.2 570.6 C731.7 571.2 735.6 570.6 738.7 571.9 C741.7 573.2 743.9 576.1 746.5 578.5 C749.1 580.9 751.7 583.9 754.3 586.3 C756.9 588.7 759.1 590.9 762.2 592.8 C765.2 594.8 769.1 596.6 772.6 598.0 C776.1 599.5 779.5 600.5 783.0 601.4 C786.5 602.3 790.0 602.5 793.5 603.2 C796.9 604.0 800.8 605.1 803.9 605.9 C806.9 606.6 809.1 607.5 811.7 607.7 C814.3 607.9 816.5 607.7 819.5 607.2 C822.6 606.6 826.9 605.4 830.0 604.5 C833.0 603.7 835.2 603.1 837.8 601.9 C840.4 600.8 842.6 599.5 845.6 597.5 C848.7 595.5 852.6 590.8 856.1 590.2 C859.5 589.6 863.0 592.9 866.5 594.1 C870.0 595.3 873.4 596.1 876.9 597.2 C880.4 598.4 883.9 599.9 887.4 601.2 C890.8 602.5 894.3 603.5 897.8 605.1 C901.3 606.6 905.2 608.8 908.2 610.3 C911.3 611.7 913.6 612.8 916.0 613.7 C918.4 614.5 920.0 615.3 922.6 615.5 C925.2 615.7 928.4 615.2 931.7 615.0 C935.0 614.8 938.6 614.5 942.1 614.5 C945.6 614.5 949.6 614.8 952.6 615.0 C955.5 615.2 956.2 615.4 960.0 615.5 C963.8 615.6 970.4 615.4 975.6 615.5 C980.9 615.6 986.1 616.3 991.3 616.3 C996.5 616.3 1002.6 615.5 1006.9 615.5 C1011.3 615.5 1013.9 616.5 1017.4 616.3 C1020.9 616.1 1024.3 615.4 1027.8 614.5 C1031.3 613.5 1034.8 612.1 1038.2 610.5 C1041.7 609.0 1045.2 606.9 1048.7 605.1 C1052.2 603.2 1055.6 601.0 1059.1 599.3 C1062.6 597.6 1066.5 595.2 1069.5 594.9 C1072.6 594.5 1074.3 596.2 1077.4 597.2 C1080.4 598.3 1084.3 600.0 1087.8 601.4 C1091.3 602.9 1095.2 604.0 1098.2 605.9 C1101.3 607.7 1103.5 609.5 1106.1 612.4 C1108.7 615.2 1111.3 620.0 1113.9 622.8 C1116.5 625.6 1119.1 627.4 1121.7 629.3 C1124.3 631.3 1126.9 632.8 1129.5 634.5 C1132.1 636.3 1134.8 638.0 1137.4 639.8 C1140.0 641.5 1142.6 643.5 1145.2 645.0 C1147.8 646.5 1150.4 648.0 1153.0 648.9 C1155.6 649.8 1158.2 649.8 1160.8 650.2 C1163.4 650.5 1166.3 650.6 1168.7 651.0 C1171.1 651.3 1172.6 652.3 1175.2 652.3 C1177.8 652.3 1181.0 651.8 1184.3 651.0 C1187.6 650.2 1191.3 648.5 1194.7 647.6 C1198.2 646.7 1201.3 646.1 1205.2 645.8 C1209.1 645.4 1214.3 645.9 1218.2 645.5 C1222.1 645.1 1225.2 644.1 1228.6 643.1 C1232.1 642.2 1236.0 640.8 1239.1 639.8 C1242.1 638.8 1244.2 637.5 1246.9 637.1 C1249.6 636.8 1254.1 637.8 1255.5 637.9" fill="none" stroke="#ea5bc4" stroke-width="1.15"/>
<g><rect x="1.50" y="386.7" width="4" height="22.8" fill="#eb4757" fill-opacity="0.09" stroke="#eb4757" stroke-width="1"/><rect x="9.50" y="377.1" width="4" height="32.4" fill="#eb4757" fill-opacity="0.09" stroke="#eb4757" stroke-width="1"/><rect x="16.50" y="373.1" width="4" height="36.4" fill="#eb4757" fill-opacity="0.09" stroke="#eb4757" stroke-width="1"/><rect x="24.00" y="375.3" width="5" height="34.7" fill="#eb4757"/><rect x="31.00" y="381.4" width="5" height="28.6" fill="#eb4757"/><rect x="38.00" y="395.4" width="5" height="14.6" fill="#eb4757"/><rect x="46.00" y="400.2" width="5" height="9.8" fill="#eb4757"/><rect x="53.50" y="399.9" width="4" height="9.6" fill="#eb4757" fill-opacity="0.09" stroke="#eb4757" stroke-width="1"/><rect x="61.00" y="399.6" width="5" height="10.4" fill="#eb4757"/><rect x="68.00" y="406.1" width="5" height="3.9" fill="#eb4757"/><rect x="75.50" y="398.0" width="4" height="11.5" fill="#eb4757" fill-opacity="0.09" stroke="#eb4757" stroke-width="1"/><rect x="83.50" y="381.1" width="4" height="28.4" fill="#eb4757" fill-opacity="0.09" stroke="#eb4757" stroke-width="1"/><rect x="90.50" y="355.1" width="4" height="54.4" fill="#eb4757" fill-opacity="0.09" stroke="#eb4757" stroke-width="1"/><rect x="98.50" y="340.9" width="4" height="68.6" fill="#eb4757" fill-opacity="0.09" stroke="#eb4757" stroke-width="1"/><rect x="105.00" y="343.4" width="5" height="66.6" fill="#eb4757"/><rect x="112.00" y="351.4" width="5" height="58.6" fill="#eb4757"/><rect x="120.00" y="363.2" width="5" height="46.8" fill="#eb4757"/><rect x="127.00" y="368.6" width="5" height="41.4" fill="#eb4757"/><rect x="135.00" y="384.1" width="5" height="25.9" fill="#eb4757"/><rect x="142.00" y="403.4" width="5" height="6.6" fill="#eb4757"/><rect x="149.50" y="410.5" width="4" height="6.1" fill="#2db58c" fill-opacity="0.09" stroke="#2db58c" stroke-width="1"/><rect x="157.50" y="410.5" width="4" height="14.1" fill="#2db58c" fill-opacity="0.09" stroke="#2db58c" stroke-width="1"/><rect x="164.50" y="410.5" width="4" height="20.0" fill="#2db58c" fill-opacity="0.09" stroke="#2db58c" stroke-width="1"/><rect x="172.50" y="410.5" width="4" height="30.2" fill="#2db58c" fill-opacity="0.09" stroke="#2db58c" stroke-width="1"/><rect x="179.50" y="410.5" width="4" height="49.0" fill="#2db58c" fill-opacity="0.09" stroke="#2db58c" stroke-width="1"/><rect x="186.50" y="410.5" width="4" height="63.5" fill="#2db58c" fill-opacity="0.09" stroke="#2db58c" stroke-width="1"/><rect x="194.50" y="410.5" width="4" height="69.6" fill="#2db58c" fill-opacity="0.09" stroke="#2db58c" stroke-width="1"/><rect x="201.50" y="410.5" width="4" height="70.4" fill="#2db58c" fill-opacity="0.09" stroke="#2db58c" stroke-width="1"/><rect x="209.00" y="410.0" width="5" height="71.0" fill="#2db58c"/><rect x="216.00" y="410.0" width="5" height="66.1" fill="#2db58c"/><rect x="223.00" y="410.0" width="5" height="61.8" fill="#2db58c"/><rect x="231.50" y="410.5" width="4" height="61.0" fill="#2db58c" fill-opacity="0.09" stroke="#2db58c" stroke-width="1"/><rect x="238.00" y="410.0" width="5" height="57.7" fill="#2db58c"/><rect x="246.00" y="410.0" width="5" height="53.7" fill="#2db58c"/><rect x="253.00" y="410.0" width="5" height="45.7" fill="#2db58c"/><rect x="260.00" y="410.0" width="5" height="37.1" fill="#2db58c"/><rect x="268.00" y="410.0" width="5" height="31.7" fill="#2db58c"/><rect x="275.00" y="410.0" width="5" height="25.6" fill="#2db58c"/><rect x="283.50" y="410.5" width="4" height="28.6" fill="#2db58c" fill-opacity="0.09" stroke="#2db58c" stroke-width="1"/><rect x="290.00" y="410.0" width="5" height="21.8" fill="#2db58c"/><rect x="297.00" y="410.0" width="5" height="11.6" fill="#2db58c"/><rect x="305.00" y="410.0" width="5" height="2.8" fill="#2db58c"/><rect x="312.50" y="398.8" width="4" height="10.7" fill="#eb4757" fill-opacity="0.09" stroke="#eb4757" stroke-width="1"/><rect x="320.50" y="389.2" width="4" height="20.3" fill="#eb4757" fill-opacity="0.09" stroke="#eb4757" stroke-width="1"/><rect x="327.50" y="387.3" width="4" height="22.2" fill="#eb4757" fill-opacity="0.09" stroke="#eb4757" stroke-width="1"/><rect x="335.50" y="380.0" width="4" height="29.5" fill="#eb4757" fill-opacity="0.09" stroke="#eb4757" stroke-width="1"/><rect x="342.50" y="369.1" width="4" height="40.4" fill="#eb4757" fill-opacity="0.09" stroke="#eb4757" stroke-width="1"/><rect x="349.50" y="361.8" width="4" height="47.7" fill="#eb4757" fill-opacity="0.09" stroke="#eb4757" stroke-width="1"/><rect x="357.50" y="355.1" width="4" height="54.4" fill="#eb4757" fill-opacity="0.09" stroke="#eb4757" stroke-width="1"/><rect x="364.00" y="362.1" width="5" height="47.9" fill="#eb4757"/><rect x="372.00" y="371.2" width="5" height="38.8" fill="#eb4757"/><rect x="379.00" y="381.4" width="5" height="28.6" fill="#eb4757"/><rect x="386.00" y="389.5" width="5" height="20.5" fill="#eb4757"/><rect x="394.00" y="399.4" width="5" height="10.6" fill="#eb4757"/><rect x="401.50" y="398.8" width="4" height="10.7" fill="#eb4757" fill-opacity="0.09" stroke="#eb4757" stroke-width="1"/><rect x="409.50" y="396.1" width="4" height="13.4" fill="#eb4757" fill-opacity="0.09" stroke="#eb4757" stroke-width="1"/><rect x="416.00" y="398.3" width="5" height="11.7" fill="#eb4757"/><rect x="423.00" y="406.4" width="5" height="3.6" fill="#eb4757"/><rect x="431.00" y="408.0" width="5" height="2.0" fill="#eb4757"/><rect x="438.50" y="407.4" width="4" height="2.1" fill="#eb4757" fill-opacity="0.09" stroke="#eb4757" stroke-width="1"/><rect x="446.50" y="407.4" width="4" height="2.1" fill="#eb4757" fill-opacity="0.09" stroke="#eb4757" stroke-width="1"/><rect x="453.50" y="407.4" width="4" height="2.1" fill="#eb4757" fill-opacity="0.09" stroke="#eb4757" stroke-width="1"/><rect x="460.50" y="407.4" width="4" height="2.1" fill="#eb4757" fill-opacity="0.09" stroke="#eb4757" stroke-width="1"/><rect x="468.50" y="400.2" width="4" height="9.3" fill="#eb4757" fill-opacity="0.09" stroke="#eb4757" stroke-width="1"/><rect x="475.50" y="396.7" width="4" height="12.8" fill="#eb4757" fill-opacity="0.09" stroke="#eb4757" stroke-width="1"/><rect x="483.50" y="389.4" width="4" height="20.1" fill="#eb4757" fill-opacity="0.09" stroke="#eb4757" stroke-width="1"/><rect x="490.00" y="390.0" width="5" height="20.0" fill="#eb4757"/><rect x="497.00" y="397.0" width="5" height="13.0" fill="#eb4757"/><rect x="505.00" y="405.0" width="5" height="5.0" fill="#eb4757"/><rect x="512.00" y="407.7" width="5" height="2.3" fill="#eb4757"/><rect x="520.50" y="410.5" width="4" height="6.6" fill="#2db58c" fill-opacity="0.09" stroke="#2db58c" stroke-width="1"/><rect x="527.50" y="410.5" width="4" height="9.8" fill="#2db58c" fill-opacity="0.09" stroke="#2db58c" stroke-width="1"/><rect x="534.50" y="410.5" width="4" height="13.9" fill="#2db58c" fill-opacity="0.09" stroke="#2db58c" stroke-width="1"/><rect x="542.50" y="410.5" width="4" height="14.7" fill="#2db58c" fill-opacity="0.09" stroke="#2db58c" stroke-width="1"/><rect x="549.00" y="410.0" width="5" height="13.0" fill="#2db58c"/><rect x="557.00" y="410.0" width="5" height="9.0" fill="#2db58c"/><rect x="564.00" y="410.0" width="5" height="6.8" fill="#2db58c"/><rect x="571.00" y="410.0" width="5" height="2.0" fill="#2db58c"/><rect x="579.50" y="410.5" width="4" height="1.8" fill="#2db58c" fill-opacity="0.09" stroke="#2db58c" stroke-width="1"/><rect x="586.50" y="410.5" width="4" height="1.8" fill="#2db58c" fill-opacity="0.09" stroke="#2db58c" stroke-width="1"/><rect x="594.50" y="402.6" width="4" height="6.9" fill="#eb4757" fill-opacity="0.09" stroke="#eb4757" stroke-width="1"/><rect x="601.50" y="392.6" width="4" height="16.9" fill="#eb4757" fill-opacity="0.09" stroke="#eb4757" stroke-width="1"/><rect x="608.50" y="387.8" width="4" height="21.7" fill="#eb4757" fill-opacity="0.09" stroke="#eb4757" stroke-width="1"/><rect x="616.50" y="386.7" width="4" height="22.8" fill="#eb4757" fill-opacity="0.09" stroke="#eb4757" stroke-width="1"/><rect x="623.00" y="388.9" width="5" height="21.1" fill="#eb4757"/><rect x="631.50" y="387.8" width="4" height="21.7" fill="#eb4757" fill-opacity="0.09" stroke="#eb4757" stroke-width="1"/><rect x="638.50" y="381.9" width="4" height="27.6" fill="#eb4757" fill-opacity="0.09" stroke="#eb4757" stroke-width="1"/><rect x="646.00" y="382.8" width="5" height="27.2" fill="#eb4757"/><rect x="653.00" y="388.1" width="5" height="21.9" fill="#eb4757"/><rect x="660.00" y="394.8" width="5" height="15.2" fill="#eb4757"/><rect x="668.00" y="402.1" width="5" height="7.9" fill="#eb4757"/><rect x="675.00" y="402.9" width="5" height="7.1" fill="#eb4757"/><rect x="683.00" y="408.8" width="5" height="2.0" fill="#eb4757"/><rect x="690.00" y="410.0" width="5" height="2.0" fill="#2db58c"/><rect x="697.50" y="410.5" width="4" height="6.6" fill="#2db58c" fill-opacity="0.09" stroke="#2db58c" stroke-width="1"/><rect x="705.50" y="410.5" width="4" height="17.9" fill="#2db58c" fill-opacity="0.09" stroke="#2db58c" stroke-width="1"/><rect x="712.50" y="410.5" width="4" height="36.6" fill="#2db58c" fill-opacity="0.09" stroke="#2db58c" stroke-width="1"/><rect x="720.50" y="410.5" width="4" height="49.5" fill="#2db58c" fill-opacity="0.09" stroke="#2db58c" stroke-width="1"/><rect x="727.50" y="410.5" width="4" height="55.7" fill="#2db58c" fill-opacity="0.09" stroke="#2db58c" stroke-width="1"/><rect x="734.50" y="410.5" width="4" height="56.7" fill="#2db58c" fill-opacity="0.09" stroke="#2db58c" stroke-width="1"/><rect x="742.50" y="410.5" width="4" height="62.9" fill="#2db58c" fill-opacity="0.09" stroke="#2db58c" stroke-width="1"/><rect x="749.50" y="410.5" width="4" height="65.6" fill="#2db58c" fill-opacity="0.09" stroke="#2db58c" stroke-width="1"/><rect x="757.50" y="410.5" width="4" height="67.7" fill="#2db58c" fill-opacity="0.09" stroke="#2db58c" stroke-width="1"/><rect x="764.00" y="410.0" width="5" height="60.7" fill="#2db58c"/><rect x="771.00" y="410.0" width="5" height="55.1" fill="#2db58c"/><rect x="779.00" y="410.0" width="5" height="41.9" fill="#2db58c"/><rect x="786.00" y="410.0" width="5" height="30.9" fill="#2db58c"/><rect x="794.00" y="410.0" width="5" height="24.2" fill="#2db58c"/><rect x="801.00" y="410.0" width="5" height="22.9" fill="#2db58c"/><rect x="808.00" y="410.0" width="5" height="18.9" fill="#2db58c"/><rect x="816.00" y="410.0" width="5" height="12.2" fill="#2db58c"/><rect x="823.00" y="410.0" width="5" height="4.9" fill="#2db58c"/><rect x="831.00" y="408.2" width="5" height="2.0" fill="#eb4757"/><rect x="838.50" y="406.6" width="4" height="2.9" fill="#eb4757" fill-opacity="0.09" stroke="#eb4757" stroke-width="1"/><rect x="845.50" y="404.7" width="4" height="4.8" fill="#eb4757" fill-opacity="0.09" stroke="#eb4757" stroke-width="1"/><rect x="853.00" y="404.5" width="5" height="5.5" fill="#eb4757"/><rect x="860.50" y="410.5" width="4" height="4.7" fill="#2db58c" fill-opacity="0.09" stroke="#2db58c" stroke-width="1"/><rect x="868.50" y="410.5" width="4" height="7.4" fill="#2db58c" fill-opacity="0.09" stroke="#2db58c" stroke-width="1"/><rect x="875.50" y="410.5" width="4" height="11.4" fill="#2db58c" fill-opacity="0.09" stroke="#2db58c" stroke-width="1"/><rect x="882.50" y="410.5" width="4" height="18.7" fill="#2db58c" fill-opacity="0.09" stroke="#2db58c" stroke-width="1"/><rect x="890.00" y="410.0" width="5" height="17.8" fill="#2db58c"/><rect x="897.50" y="410.5" width="4" height="18.7" fill="#2db58c" fill-opacity="0.09" stroke="#2db58c" stroke-width="1"/><rect x="905.50" y="410.5" width="4" height="20.6" fill="#2db58c" fill-opacity="0.09" stroke="#2db58c" stroke-width="1"/><rect x="912.00" y="410.0" width="5" height="19.7" fill="#2db58c"/><rect x="919.00" y="410.0" width="5" height="14.9" fill="#2db58c"/><rect x="927.50" y="406.9" width="4" height="2.6" fill="#eb4757" fill-opacity="0.09" stroke="#eb4757" stroke-width="1"/><rect x="934.50" y="393.4" width="4" height="16.1" fill="#eb4757" fill-opacity="0.09" stroke="#eb4757" stroke-width="1"/><rect x="942.50" y="382.7" width="4" height="26.8" fill="#eb4757" fill-opacity="0.09" stroke="#eb4757" stroke-width="1"/><rect x="949.50" y="374.7" width="4" height="34.8" fill="#eb4757" fill-opacity="0.09" stroke="#eb4757" stroke-width="1"/><rect x="957.50" y="373.9" width="4" height="35.6" fill="#eb4757" fill-opacity="0.09" stroke="#eb4757" stroke-width="1"/><rect x="964.50" y="369.1" width="4" height="40.4" fill="#eb4757" fill-opacity="0.09" stroke="#eb4757" stroke-width="1"/><rect x="971.50" y="369.1" width="4" height="40.4" fill="#eb4757" fill-opacity="0.09" stroke="#eb4757" stroke-width="1"/><rect x="979.00" y="379.3" width="5" height="30.7" fill="#eb4757"/><rect x="986.00" y="391.3" width="5" height="18.7" fill="#eb4757"/><rect x="994.50" y="391.8" width="4" height="17.7" fill="#eb4757" fill-opacity="0.09" stroke="#eb4757" stroke-width="1"/><rect x="1001.50" y="390.8" width="4" height="18.7" fill="#eb4757" fill-opacity="0.09" stroke="#eb4757" stroke-width="1"/><rect x="1008.50" y="389.4" width="4" height="20.1" fill="#eb4757" fill-opacity="0.09" stroke="#eb4757" stroke-width="1"/><rect x="1016.50" y="384.6" width="4" height="24.9" fill="#eb4757" fill-opacity="0.09" stroke="#eb4757" stroke-width="1"/><rect x="1023.00" y="388.1" width="5" height="21.9" fill="#eb4757"/><rect x="1031.00" y="392.1" width="5" height="17.9" fill="#eb4757"/><rect x="1038.50" y="392.6" width="4" height="16.9" fill="#eb4757" fill-opacity="0.09" stroke="#eb4757" stroke-width="1"/><rect x="1045.00" y="396.2" width="5" height="13.8" fill="#eb4757"/><rect x="1053.00" y="406.1" width="5" height="3.9" fill="#eb4757"/><rect x="1060.50" y="410.5" width="4" height="8.8" fill="#2db58c" fill-opacity="0.09" stroke="#2db58c" stroke-width="1"/><rect x="1068.50" y="410.5" width="4" height="17.3" fill="#2db58c" fill-opacity="0.09" stroke="#2db58c" stroke-width="1"/><rect x="1075.50" y="410.5" width="4" height="26.2" fill="#2db58c" fill-opacity="0.09" stroke="#2db58c" stroke-width="1"/><rect x="1082.50" y="410.5" width="4" height="28.1" fill="#2db58c" fill-opacity="0.09" stroke="#2db58c" stroke-width="1"/><rect x="1090.50" y="410.5" width="4" height="28.1" fill="#2db58c" fill-opacity="0.09" stroke="#2db58c" stroke-width="1"/><rect x="1097.50" y="410.5" width="4" height="29.4" fill="#2db58c" fill-opacity="0.09" stroke="#2db58c" stroke-width="1"/><rect x="1105.50" y="410.5" width="4" height="41.5" fill="#2db58c" fill-opacity="0.09" stroke="#2db58c" stroke-width="1"/><rect x="1112.50" y="410.5" width="4" height="51.4" fill="#2db58c" fill-opacity="0.09" stroke="#2db58c" stroke-width="1"/><rect x="1119.50" y="410.5" width="4" height="55.4" fill="#2db58c" fill-opacity="0.09" stroke="#2db58c" stroke-width="1"/><rect x="1127.00" y="410.0" width="5" height="52.7" fill="#2db58c"/><rect x="1134.00" y="410.0" width="5" height="47.8" fill="#2db58c"/><rect x="1142.00" y="410.0" width="5" height="39.8" fill="#2db58c"/><rect x="1149.00" y="410.0" width="5" height="33.9" fill="#2db58c"/><rect x="1156.00" y="410.0" width="5" height="21.6" fill="#2db58c"/><rect x="1164.00" y="410.0" width="5" height="12.4" fill="#2db58c"/><rect x="1171.00" y="410.0" width="5" height="9.5" fill="#2db58c"/><rect x="1179.00" y="410.0" width="5" height="2.8" fill="#2db58c"/><rect x="1186.00" y="408.2" width="5" height="2.0" fill="#eb4757"/><rect x="1193.50" y="404.7" width="4" height="4.8" fill="#eb4757" fill-opacity="0.09" stroke="#eb4757" stroke-width="1"/><rect x="1201.50" y="403.5" width="4" height="6.0" fill="#eb4757" fill-opacity="0.09" stroke="#eb4757" stroke-width="1"/><rect x="1208.00" y="403.2" width="5" height="6.8" fill="#eb4757"/><rect x="1216.00" y="405.0" width="5" height="5.0" fill="#eb4757"/><rect x="1223.50" y="398.0" width="4" height="11.5" fill="#eb4757" fill-opacity="0.09" stroke="#eb4757" stroke-width="1"/><rect x="1230.50" y="388.6" width="4" height="20.9" fill="#eb4757" fill-opacity="0.09" stroke="#eb4757" stroke-width="1"/><rect x="1238.50" y="382.7" width="4" height="26.8" fill="#eb4757" fill-opacity="0.09" stroke="#eb4757" stroke-width="1"/><rect x="1245.50" y="381.1" width="4" height="28.4" fill="#eb4757" fill-opacity="0.09" stroke="#eb4757" stroke-width="1"/><rect x="1253.00" y="388.9" width="5" height="21.1" fill="#eb4757"/></g>
<path d="M0.0 412.2 C1.3 411.6 5.4 409.8 8.0 408.2 C10.7 406.7 13.4 404.6 16.1 402.9 C18.8 401.2 21.2 399.7 24.1 398.0 C27.0 396.3 30.8 393.9 33.5 392.7 C36.2 391.5 37.8 391.3 40.2 390.8 C42.7 390.3 45.6 389.8 48.3 389.5 C50.9 389.1 53.8 389.1 56.3 388.6 C58.8 388.2 60.5 387.2 63.0 386.8 C65.5 386.3 68.6 386.4 71.0 386.0 C73.5 385.5 75.3 385.3 77.7 384.1 C80.2 382.9 83.1 380.7 85.8 378.7 C88.5 376.7 91.4 374.4 93.8 372.0 C96.3 369.7 98.3 367.0 100.5 364.5 C102.8 362.1 104.8 360.0 107.2 357.3 C109.7 354.5 112.6 350.6 115.3 347.9 C118.0 345.2 120.8 343.1 123.3 341.2 C125.9 339.3 128.3 337.8 130.6 336.6 C132.8 335.5 134.4 335.1 136.7 334.5 C139.1 333.9 142.1 333.2 144.8 333.2 C147.5 333.2 150.1 333.9 152.8 334.5 C155.5 335.1 158.4 336.0 160.9 336.6 C163.3 337.3 165.3 337.5 167.6 338.5 C169.8 339.5 171.8 341.0 174.3 342.5 C176.7 344.1 179.6 345.5 182.3 347.9 C185.0 350.3 187.7 353.5 190.3 356.7 C193.0 360.0 195.7 363.8 198.4 367.2 C201.1 370.6 203.8 374.1 206.4 377.4 C209.1 380.6 211.7 383.9 214.5 386.8 C217.2 389.7 220.3 391.9 223.0 394.8 C225.8 397.7 228.4 401.3 231.1 404.2 C233.8 407.1 236.4 409.6 239.1 412.2 C241.8 414.8 244.5 417.4 247.2 419.7 C249.9 422.1 252.5 424.2 255.2 426.2 C257.9 428.1 260.6 429.9 263.3 431.5 C265.9 433.2 268.8 434.7 271.3 435.8 C273.8 437.0 275.7 437.7 278.0 438.5 C280.3 439.4 282.8 440.2 285.2 440.9 C287.7 441.7 290.2 442.6 292.7 443.1 C295.3 443.6 298.1 443.7 300.8 443.9 C303.5 444.1 306.4 444.5 308.8 444.4 C311.3 444.3 313.3 443.7 315.5 443.1 C317.8 442.4 319.8 441.4 322.2 440.4 C324.7 439.4 327.6 438.4 330.3 436.9 C333.0 435.4 335.6 433.4 338.3 431.5 C341.0 429.7 343.7 427.7 346.4 425.6 C349.0 423.5 352.0 421.2 354.4 418.9 C356.9 416.7 358.7 414.5 361.1 412.2 C363.6 410.0 366.7 407.5 369.2 405.5 C371.6 403.6 373.4 402.1 375.9 400.7 C378.3 399.4 381.4 398.5 383.9 397.5 C386.4 396.5 388.4 395.5 390.6 394.8 C392.8 394.1 394.8 393.9 397.3 393.5 C399.8 393.0 402.9 392.6 405.3 392.1 C407.8 391.7 409.8 391.1 412.1 390.8 C414.3 390.5 416.3 390.5 418.8 390.3 C421.2 390.0 424.9 389.6 426.8 389.5 C428.7 389.3 427.2 389.5 430.0 389.5 C432.8 389.5 438.9 389.7 443.4 389.5 C447.9 389.2 452.3 388.6 456.8 388.1 C461.3 387.6 466.6 386.8 470.2 386.2 C473.8 385.7 475.8 385.3 478.3 384.6 C480.7 383.9 482.5 382.8 485.0 381.9 C487.4 381.1 490.3 380.3 493.0 379.5 C495.7 378.8 498.6 377.8 501.0 377.4 C503.5 376.9 505.3 377.1 507.7 376.8 C510.2 376.6 513.3 376.0 515.8 376.0 C518.2 376.1 520.0 377.0 522.5 377.4 C525.0 377.7 528.1 377.7 530.5 378.2 C533.0 378.6 535.0 379.4 537.2 380.1 C539.5 380.7 541.5 381.4 543.9 381.9 C546.4 382.5 549.3 382.9 552.0 383.3 C554.7 383.6 557.3 383.8 560.0 384.1 C562.7 384.4 565.4 384.7 568.1 384.9 C570.8 385.1 573.7 385.3 576.1 385.4 C578.6 385.5 580.6 385.4 582.8 385.4 C585.0 385.4 587.1 385.7 589.5 385.4 C592.0 385.2 595.1 384.7 597.6 384.1 C600.0 383.5 601.8 382.8 604.3 381.9 C606.7 381.1 609.8 379.7 612.3 378.7 C614.8 377.7 616.6 376.9 619.0 376.0 C621.5 375.2 624.6 374.3 627.1 373.4 C629.5 372.4 631.3 371.3 633.8 370.1 C636.2 369.0 639.9 367.5 641.8 366.7 C643.7 365.9 642.7 366.3 645.0 365.3 C647.3 364.3 652.6 361.6 655.7 360.5 C658.9 359.4 661.1 359.1 663.8 358.6 C666.4 358.2 669.4 358.0 671.8 357.8 C674.3 357.6 676.3 357.4 678.5 357.3 C680.7 357.2 682.8 357.3 685.2 357.3 C687.7 357.3 690.8 357.1 693.3 357.3 C695.7 357.4 697.5 357.5 700.0 358.1 C702.4 358.6 705.5 359.4 708.0 360.5 C710.5 361.6 712.8 362.6 715.2 364.5 C717.7 366.4 720.2 369.4 722.7 372.0 C725.3 374.6 728.3 377.6 730.8 380.1 C733.2 382.5 735.0 384.4 737.5 386.8 C740.0 389.1 743.1 391.6 745.5 394.0 C748.0 396.4 749.8 398.2 752.2 401.0 C754.7 403.8 757.8 408.1 760.3 410.9 C762.7 413.7 764.5 415.4 767.0 417.6 C769.4 419.8 772.6 422.4 775.0 424.3 C777.5 426.2 779.3 427.6 781.7 429.1 C784.2 430.7 787.3 432.6 789.8 433.7 C792.2 434.8 794.0 435.1 796.5 435.8 C798.9 436.6 802.1 437.5 804.5 438.2 C807.0 439.0 808.8 439.9 811.2 440.4 C813.7 440.9 816.6 441.1 819.3 441.2 C821.9 441.3 824.8 441.2 827.3 441.2 C829.8 441.2 831.6 441.2 834.0 441.2 C836.5 441.1 839.6 441.1 842.1 440.9 C844.5 440.8 846.5 440.6 848.8 440.4 C851.0 440.2 853.6 439.8 855.5 439.6 C857.3 439.4 857.9 439.0 860.0 439.0 C862.1 439.1 865.4 439.4 868.0 439.9 C870.7 440.3 873.2 441.0 876.1 441.7 C879.0 442.5 882.8 443.6 885.5 444.4 C888.2 445.2 889.7 445.8 892.2 446.6 C894.6 447.4 897.5 448.3 900.2 449.2 C902.9 450.1 905.8 451.1 908.3 451.9 C910.7 452.8 912.5 453.8 915.0 454.3 C917.4 454.9 920.5 455.0 923.0 455.1 C925.5 455.3 927.2 455.6 929.7 455.1 C932.2 454.7 935.1 453.5 937.7 452.5 C940.4 451.4 943.3 450.3 945.8 449.0 C948.2 447.6 950.0 445.9 952.5 444.4 C955.0 442.9 958.1 441.5 960.5 439.9 C963.0 438.2 964.8 436.2 967.2 434.5 C969.7 432.8 972.8 431.2 975.3 429.7 C977.7 428.1 979.6 426.2 982.0 425.1 C984.4 424.0 987.0 423.8 989.5 423.0 C991.9 422.2 994.2 421.2 996.7 420.3 C999.3 419.4 1002.3 418.5 1004.8 417.6 C1007.2 416.7 1009.1 415.9 1011.5 414.9 C1013.8 413.9 1016.5 412.7 1019.0 411.7 C1021.4 410.7 1023.7 409.8 1026.2 409.0 C1028.8 408.2 1031.6 407.7 1034.3 406.9 C1036.9 406.1 1039.8 404.9 1042.3 404.2 C1044.8 403.5 1046.6 403.2 1049.0 402.9 C1051.5 402.5 1055.2 402.2 1057.1 402.1 C1058.9 401.9 1058.2 401.7 1060.0 402.1 C1061.8 402.4 1065.4 403.3 1068.0 404.2 C1070.7 405.1 1073.4 406.3 1076.1 407.7 C1078.8 409.0 1081.4 410.8 1084.1 412.2 C1086.8 413.7 1089.5 414.9 1092.2 416.3 C1094.9 417.6 1097.5 418.5 1100.2 420.3 C1102.9 422.1 1105.8 424.5 1108.3 427.0 C1110.7 429.4 1112.5 432.6 1115.0 435.0 C1117.4 437.5 1120.5 439.7 1123.0 441.7 C1125.5 443.7 1127.2 445.4 1129.7 447.1 C1132.2 448.8 1135.1 450.3 1137.7 451.9 C1140.4 453.6 1143.3 455.7 1145.8 457.0 C1148.2 458.4 1150.0 459.1 1152.5 460.0 C1155.0 460.9 1158.1 461.7 1160.5 462.4 C1163.0 463.0 1164.8 463.4 1167.2 463.7 C1169.7 464.1 1172.8 464.4 1175.3 464.5 C1177.7 464.7 1179.6 464.6 1182.0 464.5 C1184.4 464.4 1187.0 464.2 1189.5 464.0 C1191.9 463.8 1194.2 463.5 1196.7 463.2 C1199.3 462.8 1202.3 462.2 1204.8 461.8 C1207.2 461.5 1209.1 461.3 1211.5 461.0 C1213.8 460.7 1216.5 460.3 1219.0 460.0 C1221.4 459.6 1223.7 459.9 1226.2 459.2 C1228.8 458.4 1231.6 456.9 1234.3 455.7 C1236.9 454.5 1239.8 453.0 1242.3 451.9 C1244.8 450.8 1246.8 450.2 1249.0 449.2 C1251.2 448.3 1254.4 446.8 1255.4 446.3" fill="none" stroke="#f9b120" stroke-width="1.2"/>
<path d="M0.0 406.3 C1.3 404.4 5.4 398.4 8.0 394.8 C10.7 391.2 13.4 387.1 16.1 384.6 C18.8 382.2 21.2 381.2 24.1 380.1 C27.0 378.9 30.8 377.5 33.5 377.9 C36.2 378.4 37.8 381.6 40.2 382.7 C42.7 383.9 45.6 384.6 48.3 384.6 C50.9 384.6 53.8 383.3 56.3 382.7 C58.8 382.2 60.5 381.3 63.0 381.4 C65.5 381.5 68.6 383.9 71.0 383.3 C73.5 382.7 75.3 380.9 77.7 377.9 C80.2 374.9 83.1 371.1 85.8 365.3 C88.5 359.5 91.4 349.0 93.8 343.1 C96.3 337.1 98.3 333.0 100.5 329.7 C102.8 326.4 104.8 325.0 107.2 323.2 C109.7 321.4 112.6 319.7 115.3 318.9 C118.0 318.2 120.8 319.4 123.3 318.9 C125.9 318.5 128.3 315.9 130.6 316.3 C132.8 316.6 134.4 318.9 136.7 321.1 C139.1 323.3 142.1 326.9 144.8 329.7 C147.5 332.4 150.1 335.3 152.8 337.7 C155.5 340.2 158.4 342.7 160.9 344.4 C163.3 346.1 165.3 346.0 167.6 347.9 C169.8 349.8 171.8 351.9 174.3 355.9 C176.7 360.0 179.6 366.9 182.3 372.0 C185.0 377.2 187.7 382.1 190.3 386.8 C193.0 391.5 195.7 396.2 198.4 400.2 C201.1 404.2 203.8 407.8 206.4 410.9 C209.1 414.0 213.0 417.4 214.5 418.9 C215.9 420.5 213.6 418.9 215.0 420.3 C216.4 421.6 220.4 424.5 223.0 427.0 C225.7 429.4 228.4 432.8 231.1 435.0 C233.8 437.3 236.4 438.8 239.1 440.4 C241.8 442.0 244.5 443.4 247.2 444.4 C249.9 445.4 252.5 446.1 255.2 446.6 C257.9 447.0 260.6 446.8 263.3 447.1 C265.9 447.4 268.8 448.1 271.3 448.4 C273.8 448.7 275.7 448.0 278.0 449.0 C280.3 450.0 282.8 453.7 285.2 454.3 C287.7 454.9 290.2 453.4 292.7 452.5 C295.3 451.5 298.1 450.0 300.8 448.4 C303.5 446.9 306.4 445.2 308.8 443.1 C311.3 441.0 313.3 438.3 315.5 435.8 C317.8 433.4 319.8 430.4 322.2 428.3 C324.7 426.3 327.6 426.0 330.3 423.5 C333.0 421.0 335.6 417.0 338.3 413.6 C341.0 410.1 343.7 406.2 346.4 402.9 C349.0 399.5 352.0 396.4 354.4 393.5 C356.9 390.6 358.7 387.1 361.1 385.4 C363.6 383.7 366.7 383.6 369.2 383.3 C371.6 383.0 373.4 383.3 375.9 383.6 C378.3 383.8 381.4 384.3 383.9 384.6 C386.4 384.9 388.4 384.6 390.6 385.4 C392.8 386.2 394.8 389.2 397.3 389.5 C399.8 389.7 402.9 387.8 405.3 386.8 C407.8 385.8 409.8 384.1 412.1 383.6 C414.3 383.0 416.3 382.9 418.8 383.6 C421.2 384.2 424.9 386.5 426.8 387.3 C428.7 388.2 428.1 388.6 430.0 388.6 C431.9 388.7 435.4 388.0 438.0 387.6 C440.7 387.2 443.4 386.5 446.1 386.2 C448.8 386.0 451.4 386.5 454.1 386.2 C456.8 386.0 459.5 385.8 462.2 384.9 C464.9 384.0 467.5 382.2 470.2 380.9 C472.9 379.5 475.8 378.5 478.3 376.8 C480.7 375.2 482.5 372.5 485.0 371.2 C487.4 370.0 490.3 369.2 493.0 369.3 C495.7 369.5 498.6 371.1 501.0 372.0 C503.5 372.9 505.3 373.9 507.7 374.7 C510.2 375.5 513.3 375.7 515.8 376.6 C518.2 377.5 520.0 378.9 522.5 380.1 C525.0 381.2 528.1 382.4 530.5 383.6 C533.0 384.7 535.0 385.8 537.2 386.8 C539.5 387.8 541.5 389.0 543.9 389.5 C546.4 389.9 549.3 389.6 552.0 389.5 C554.7 389.3 557.3 388.8 560.0 388.6 C562.7 388.5 565.4 389.3 568.1 388.6 C570.8 388.0 573.7 385.3 576.1 384.9 C578.6 384.4 580.6 385.8 582.8 386.0 C585.0 386.1 587.1 387.3 589.5 386.0 C592.0 384.7 595.1 380.4 597.6 378.2 C600.0 376.0 601.8 374.6 604.3 372.8 C606.7 371.0 609.8 368.9 612.3 367.5 C614.8 366.0 616.6 364.7 619.0 364.0 C621.5 363.3 624.6 364.1 627.1 363.2 C629.5 362.3 631.3 360.5 633.8 358.6 C636.2 356.7 639.9 353.2 641.8 351.9 C643.7 350.7 642.7 351.6 645.0 351.1 C647.3 350.6 652.6 348.7 655.7 348.7 C658.9 348.7 661.1 350.4 663.8 351.1 C666.4 351.9 669.4 352.9 671.8 353.3 C674.3 353.6 676.3 352.8 678.5 353.3 C680.7 353.7 682.8 355.2 685.2 355.9 C687.7 356.7 690.8 356.9 693.3 357.8 C695.7 358.7 697.5 358.9 700.0 361.3 C702.4 363.7 705.5 368.2 708.0 372.0 C710.5 375.8 712.8 380.1 715.2 384.1 C717.7 388.1 720.2 392.4 722.7 396.2 C725.3 400.0 728.3 403.7 730.8 406.9 C733.2 410.0 735.0 411.8 737.5 414.9 C740.0 418.0 743.1 422.5 745.5 425.6 C748.0 428.8 749.8 430.8 752.2 433.7 C754.7 436.6 757.8 440.8 760.3 443.1 C762.7 445.3 764.5 445.9 767.0 447.1 C769.4 448.3 772.6 449.9 775.0 450.3 C777.5 450.8 779.3 450.5 781.7 449.8 C784.2 449.0 787.3 446.4 789.8 445.8 C792.2 445.1 794.0 445.4 796.5 445.8 C798.9 446.1 802.1 447.4 804.5 447.9 C807.0 448.3 808.8 448.8 811.2 448.4 C813.7 448.1 816.6 446.9 819.3 445.8 C821.9 444.6 824.8 442.8 827.3 441.7 C829.8 440.7 831.6 440.3 834.0 439.6 C836.5 438.9 839.6 438.2 842.1 437.7 C844.5 437.2 846.5 436.6 848.8 436.4 C851.0 436.1 853.6 435.6 855.5 436.4 C857.3 437.1 857.9 439.6 860.0 440.9 C862.1 442.3 865.4 443.2 868.0 444.4 C870.7 445.7 873.2 446.7 876.1 448.4 C879.0 450.1 882.8 453.4 885.5 454.6 C888.2 455.8 889.7 454.9 892.2 455.7 C894.6 456.4 897.5 458.0 900.2 459.2 C902.9 460.3 905.8 462.0 908.3 462.6 C910.7 463.3 912.5 463.3 915.0 463.2 C917.4 463.0 920.5 463.8 923.0 461.8 C925.5 459.8 927.2 454.3 929.7 451.1 C932.2 447.9 935.1 445.5 937.7 442.5 C940.4 439.5 943.3 436.0 945.8 433.2 C948.2 430.3 950.0 428.1 952.5 425.6 C955.0 423.2 958.1 420.7 960.5 418.4 C963.0 416.1 964.8 413.6 967.2 411.7 C969.7 409.8 972.8 407.2 975.3 406.9 C977.7 406.5 979.6 408.4 982.0 409.6 C984.4 410.7 987.0 413.4 989.5 413.6 C991.9 413.7 994.2 411.3 996.7 410.4 C999.3 409.5 1002.3 409.3 1004.8 408.2 C1007.2 407.1 1009.1 405.3 1011.5 403.7 C1013.8 402.0 1016.5 399.2 1019.0 398.3 C1021.4 397.4 1023.7 398.5 1026.2 398.3 C1028.8 398.1 1031.6 397.4 1034.3 397.0 C1036.9 396.5 1039.8 395.6 1042.3 395.3 C1044.8 395.1 1046.6 394.6 1049.0 395.6 C1051.5 396.6 1055.2 400.1 1057.1 401.5 C1058.9 402.9 1058.2 402.4 1060.0 404.2 C1061.8 406.0 1065.4 409.3 1068.0 412.2 C1070.7 415.1 1073.4 419.2 1076.1 421.6 C1078.8 424.1 1081.4 425.4 1084.1 427.0 C1086.8 428.5 1089.5 429.7 1092.2 431.0 C1094.9 432.3 1097.5 432.3 1100.2 435.0 C1102.9 437.7 1105.8 443.3 1108.3 447.1 C1110.7 450.9 1112.5 454.7 1115.0 457.8 C1117.4 460.9 1120.5 463.7 1123.0 465.9 C1125.5 468.0 1127.2 469.3 1129.7 470.7 C1132.2 472.0 1135.1 473.2 1137.7 473.9 C1140.4 474.6 1143.3 474.5 1145.8 474.7 C1148.2 474.9 1150.0 475.7 1152.5 475.2 C1155.0 474.7 1158.1 472.8 1160.5 471.8 C1163.0 470.7 1164.8 469.7 1167.2 469.1 C1169.7 468.4 1172.8 468.4 1175.3 467.7 C1177.7 467.1 1179.6 465.9 1182.0 465.1 C1184.4 464.2 1187.0 463.3 1189.5 462.4 C1191.9 461.5 1194.2 460.5 1196.7 459.7 C1199.3 458.9 1202.3 458.2 1204.8 457.8 C1207.2 457.4 1209.1 457.2 1211.5 457.3 C1213.8 457.4 1216.5 459.2 1219.0 458.4 C1221.4 457.5 1223.7 454.2 1226.2 451.9 C1228.8 449.6 1231.6 446.9 1234.3 444.4 C1236.9 441.9 1239.8 438.8 1242.3 436.9 C1244.8 435.0 1246.8 433.4 1249.0 433.2 C1251.2 432.9 1254.4 435.2 1255.4 435.6" fill="none" stroke="#4fd1b9" stroke-width="1.2"/>
<g font-family="Liberation Sans, sans-serif"><path d="M108.3 52.2h14.2v14.2h-4.3l-2.8 3.3l-2.8 -3.3h-4.3z" fill="#eb4757"/><text x="115.4" y="63.5" text-anchor="middle" fill="#fff" stroke="#fff" stroke-width="0.3" font-size="12.5" >9</text><path d="M174.9 174.1h4.3l2.8 -3l2.8 3h4.3v14.1h-14.2z" fill="#2db58c"/><text x="182.0" y="185.6" text-anchor="middle" fill="#fff" stroke="#fff" stroke-width="0.3" font-size="12.5" >9</text><path d="M204.5 187.4h4.3l2.8 -3l2.8 3h4.3v14.1h-14.2z" fill="#2db58c"/><text x="211.6" y="198.9" text-anchor="middle" fill="#fff" stroke="#fff" stroke-width="0.3" font-size="12.5" letter-spacing="-0.6">13</text><path d="M352.6 80.5h14.2v14.2h-4.3l-2.8 3.3l-2.8 -3.3h-4.3z" fill="#eb4757"/><text x="359.7" y="91.8" text-anchor="middle" fill="#fff" stroke="#fff" stroke-width="0.3" font-size="12.5" >9</text><path d="M604.4 32.3h14.2v14.2h-4.3l-2.8 3.3l-2.8 -3.3h-4.3z" fill="#eb4757"/><text x="611.5" y="43.6" text-anchor="middle" fill="#fff" stroke="#fff" stroke-width="0.3" font-size="12.5" >9</text><path d="M634.0 25.4h14.2v14.2h-4.3l-2.8 3.3l-2.8 -3.3h-4.3z" fill="#eb4757"/><text x="641.1" y="36.7" text-anchor="middle" fill="#fff" stroke="#fff" stroke-width="0.3" font-size="12.5" letter-spacing="-0.6">13</text><path d="M752.5 162.2h4.3l2.8 -3l2.8 3h4.3v14.1h-14.2z" fill="#2db58c"/><text x="759.6" y="173.7" text-anchor="middle" fill="#fff" stroke="#fff" stroke-width="0.3" font-size="12.5" >9</text><path d="M908.0 188.3h4.3l2.8 -3l2.8 3h4.3v14.1h-14.2z" fill="#2db58c"/><text x="915.1" y="199.8" text-anchor="middle" fill="#fff" stroke="#fff" stroke-width="0.3" font-size="12.5" >9</text><path d="M1100.5 211.3h4.3l2.8 -3l2.8 3h4.3v14.1h-14.2z" fill="#2db58c"/><text x="1107.6" y="222.8" text-anchor="middle" fill="#fff" stroke="#fff" stroke-width="0.3" font-size="12.5" >9</text><path d="M1130.1 217.1h4.3l2.8 -3l2.8 3h4.3v14.1h-14.2z" fill="#2db58c"/><text x="1137.2" y="228.6" text-anchor="middle" fill="#fff" stroke="#fff" stroke-width="0.3" font-size="12.5" letter-spacing="-0.6">13</text></g>
<g fill="none"><path d="M3.50 140.0V222.2" stroke="#eb4757" stroke-width="1"/><rect x="1.00" y="149" width="5" height="52" fill="#eb4757"/><path d="M11.50 130.9V159.6" stroke="#2db58c" stroke-width="1"/><rect x="9.00" y="149" width="5" height="4" fill="#2db58c"/><path d="M18.50 141.3V159.0" stroke="#2db58c" stroke-width="1"/><rect x="16.00" y="152" width="5" height="3" fill="#2db58c"/><path d="M26.50 146.5V166.6" stroke="#2db58c" stroke-width="1"/><rect x="24.00" y="154" width="5" height="10" fill="#2db58c"/><path d="M33.50 159.0V173.4" stroke="#2db58c" stroke-width="1"/><rect x="31.00" y="163" width="5" height="4" fill="#2db58c"/><path d="M40.50 164.0V201.8" stroke="#2db58c" stroke-width="1"/><rect x="38.00" y="167" width="5" height="22" fill="#2db58c"/><path d="M48.50 169.5V205.8" stroke="#eb4757" stroke-width="1"/><rect x="46.00" y="175" width="5" height="14" fill="#eb4757"/><path d="M55.50 151.2V179.7" stroke="#eb4757" stroke-width="1"/><rect x="53.00" y="162" width="5" height="14" fill="#eb4757"/><path d="M63.50 153.8V174.0" stroke="#2db58c" stroke-width="1"/><rect x="61.00" y="162" width="5" height="3" fill="#2db58c"/><path d="M70.50 153.0V181.2" stroke="#2db58c" stroke-width="1"/><rect x="68.00" y="164" width="5" height="12" fill="#2db58c"/><path d="M77.50 138.2V179.7" stroke="#eb4757" stroke-width="1"/><rect x="75.00" y="142" width="5" height="34" fill="#eb4757"/><path d="M85.50 97.7V148.6" stroke="#eb4757" stroke-width="1"/><rect x="83.00" y="113" width="5" height="30" fill="#eb4757"/><path d="M92.50 70.9V121.7" stroke="#eb4757" stroke-width="1"/><rect x="90.00" y="74" width="5" height="39" fill="#eb4757"/><path d="M100.50 60.4V87.8" stroke="#eb4757" stroke-width="1"/><rect x="98.00" y="68" width="5" height="6" fill="#eb4757"/><path d="M107.50 67.0V91.0" stroke="#2db58c" stroke-width="1"/><rect x="105.00" y="68" width="5" height="18" fill="#2db58c"/><path d="M114.50 73.5V90.4" stroke="#2db58c" stroke-width="1"/><rect x="112.00" y="85" width="5" height="4" fill="#2db58c"/><path d="M122.50 77.4V100.9" stroke="#2db58c" stroke-width="1"/><rect x="120.00" y="88" width="5" height="9" fill="#2db58c"/><path d="M129.50 69.6V100.9" stroke="#eb4757" stroke-width="1"/><rect x="127.00" y="81" width="5" height="16" fill="#eb4757"/><path d="M137.50 77.4V111.8" stroke="#2db58c" stroke-width="1"/><rect x="135.00" y="81" width="5" height="23" fill="#2db58c"/><path d="M144.50 103.0V121.0" stroke="#2db58c" stroke-width="1"/><rect x="142.00" y="104" width="5" height="13" fill="#2db58c"/><path d="M151.50 104.8V119.1" stroke="#2db58c" stroke-width="1"/><rect x="149.00" y="116" width="5" height="2" fill="#2db58c"/><path d="M159.50 106.9V126.4" stroke="#eb4757" stroke-width="1"/><rect x="157.00" y="113" width="5" height="4" fill="#eb4757"/><path d="M166.50 111.3V130.1" stroke="#2db58c" stroke-width="1"/><rect x="164.00" y="113" width="5" height="2" fill="#2db58c"/><path d="M174.50 113.4V130.1" stroke="#2db58c" stroke-width="1"/><rect x="172.00" y="114" width="5" height="16" fill="#2db58c"/><path d="M181.50 126.2V166.6" stroke="#2db58c" stroke-width="1"/><rect x="179.00" y="129" width="5" height="31" fill="#2db58c"/><path d="M188.50 155.1V175.2" stroke="#2db58c" stroke-width="1"/><rect x="186.00" y="160" width="5" height="8" fill="#2db58c"/><path d="M196.50 161.7V173.9" stroke="#2db58c" stroke-width="1"/><rect x="194.00" y="167" width="5" height="1" fill="#2db58c"/><path d="M203.50 159.6V168.7" stroke="#2db58c" stroke-width="1"/><rect x="201.00" y="167" width="5" height="1" fill="#2db58c"/><path d="M211.50 166.9V179.7" stroke="#2db58c" stroke-width="1"/><rect x="209.00" y="168" width="5" height="6" fill="#2db58c"/><path d="M218.50 166.3V175.5" stroke="#eb4757" stroke-width="1"/><rect x="216.00" y="170" width="5" height="4" fill="#eb4757"/><path d="M225.50 168.1V177.2" stroke="#2db58c" stroke-width="1"/><rect x="223.00" y="170" width="5" height="2" fill="#2db58c"/><path d="M233.50 170.5V191.1" stroke="#2db58c" stroke-width="1"/><rect x="231.00" y="172" width="5" height="16" fill="#2db58c"/><path d="M240.50 179.6V188.5" stroke="#eb4757" stroke-width="1"/><rect x="238.00" y="184" width="5" height="4" fill="#eb4757"/><path d="M248.50 179.6V193.5" stroke="#2db58c" stroke-width="1"/><rect x="246.00" y="184" width="5" height="6" fill="#2db58c"/><path d="M255.50 180.3V198.0" stroke="#eb4757" stroke-width="1"/><rect x="253.00" y="183" width="5" height="7" fill="#eb4757"/><path d="M262.50 166.5V186.1" stroke="#eb4757" stroke-width="1"/><rect x="260.00" y="179" width="5" height="5" fill="#eb4757"/><path d="M270.50 176.5V193.3" stroke="#2db58c" stroke-width="1"/><rect x="268.00" y="179" width="5" height="7" fill="#2db58c"/><path d="M277.50 178.9V194.0" stroke="#eb4757" stroke-width="1"/><rect x="275.00" y="183" width="5" height="3" fill="#eb4757"/><path d="M285.50 178.9V216.0" stroke="#2db58c" stroke-width="1"/><rect x="283.00" y="183" width="5" height="27" fill="#2db58c"/><path d="M292.50 176.5V211.9" stroke="#eb4757" stroke-width="1"/><rect x="290.00" y="185" width="5" height="25" fill="#eb4757"/><path d="M299.50 170.0V191.1" stroke="#eb4757" stroke-width="1"/><rect x="297.00" y="179" width="5" height="7" fill="#eb4757"/><path d="M307.50 161.2V182.5" stroke="#eb4757" stroke-width="1"/><rect x="305.00" y="174" width="5" height="6" fill="#eb4757"/><path d="M314.50 142.5V175.3" stroke="#eb4757" stroke-width="1"/><rect x="312.00" y="154" width="5" height="21" fill="#eb4757"/><path d="M322.50 141.3V164.5" stroke="#eb4757" stroke-width="1"/><rect x="320.00" y="152" width="5" height="2" fill="#eb4757"/><path d="M329.50 149.0V163.6" stroke="#2db58c" stroke-width="1"/><rect x="327.00" y="151" width="5" height="12" fill="#2db58c"/><path d="M337.50 122.2V163.6" stroke="#eb4757" stroke-width="1"/><rect x="335.00" y="143" width="5" height="20" fill="#eb4757"/><path d="M344.50 123.4V144.2" stroke="#eb4757" stroke-width="1"/><rect x="342.00" y="125" width="5" height="19" fill="#eb4757"/><path d="M351.50 109.0V126.0" stroke="#eb4757" stroke-width="1"/><rect x="349.00" y="122" width="5" height="4" fill="#eb4757"/><path d="M359.50 100.7V146.8" stroke="#eb4757" stroke-width="1"/><rect x="357.00" y="109" width="5" height="14" fill="#eb4757"/><path d="M366.50 102.3V137.8" stroke="#2db58c" stroke-width="1"/><rect x="364.00" y="109" width="5" height="23" fill="#2db58c"/><path d="M374.50 125.1V143.3" stroke="#2db58c" stroke-width="1"/><rect x="372.00" y="132" width="5" height="3" fill="#2db58c"/><path d="M381.50 129.4V142.5" stroke="#2db58c" stroke-width="1"/><rect x="379.00" y="134" width="5" height="8" fill="#2db58c"/><path d="M388.50 127.7V144.2" stroke="#eb4757" stroke-width="1"/><rect x="386.00" y="139" width="5" height="3" fill="#eb4757"/><path d="M396.50 136.6V149.7" stroke="#2db58c" stroke-width="1"/><rect x="394.00" y="139" width="5" height="10" fill="#2db58c"/><path d="M403.50 113.1V151.6" stroke="#eb4757" stroke-width="1"/><rect x="401.00" y="129" width="5" height="20" fill="#eb4757"/><path d="M411.50 109.0V130.6" stroke="#eb4757" stroke-width="1"/><rect x="409.00" y="121" width="5" height="9" fill="#eb4757"/><path d="M418.50 115.0V131.0" stroke="#2db58c" stroke-width="1"/><rect x="416.00" y="121" width="5" height="9" fill="#2db58c"/><path d="M425.50 126.3V146.6" stroke="#2db58c" stroke-width="1"/><rect x="423.00" y="129" width="5" height="15" fill="#2db58c"/><path d="M433.50 135.3V147.2" stroke="#eb4757" stroke-width="1"/><rect x="431.00" y="136" width="5" height="7" fill="#eb4757"/><path d="M440.50 118.2V138.8" stroke="#eb4757" stroke-width="1"/><rect x="438.00" y="125" width="5" height="12" fill="#eb4757"/><path d="M448.50 120.9V145.1" stroke="#2db58c" stroke-width="1"/><rect x="446.00" y="125" width="5" height="3" fill="#2db58c"/><path d="M455.50 122.6V136.7" stroke="#eb4757" stroke-width="1"/><rect x="453.00" y="125" width="5" height="3" fill="#eb4757"/><path d="M462.50 118.8V132.5" stroke="#eb4757" stroke-width="1"/><rect x="460.00" y="123" width="5" height="3" fill="#eb4757"/><path d="M470.50 96.7V125.7" stroke="#eb4757" stroke-width="1"/><rect x="468.00" y="107" width="5" height="17" fill="#eb4757"/><path d="M477.50 102.6V110.8" stroke="#eb4757" stroke-width="1"/><rect x="475.00" y="104" width="5" height="4" fill="#eb4757"/><path d="M485.50 86.6V107.7" stroke="#eb4757" stroke-width="1"/><rect x="483.00" y="93" width="5" height="12" fill="#eb4757"/><path d="M492.50 63.1V100.9" stroke="#2db58c" stroke-width="1"/><rect x="490.00" y="93" width="5" height="7" fill="#2db58c"/><path d="M499.50 92.5V117.1" stroke="#2db58c" stroke-width="1"/><rect x="497.00" y="100" width="5" height="12" fill="#2db58c"/><path d="M507.50 106.2V122.4" stroke="#2db58c" stroke-width="1"/><rect x="505.00" y="111" width="5" height="6" fill="#2db58c"/><path d="M514.50 111.4V123.0" stroke="#eb4757" stroke-width="1"/><rect x="512.00" y="113" width="5" height="4" fill="#eb4757"/><path d="M522.50 109.3V127.2" stroke="#2db58c" stroke-width="1"/><rect x="520.00" y="113" width="5" height="10" fill="#2db58c"/><path d="M529.50 118.8V125.7" stroke="#eb4757" stroke-width="1"/><rect x="527.00" y="119" width="5" height="4" fill="#eb4757"/><path d="M536.50 115.6V123.6" stroke="#2db58c" stroke-width="1"/><rect x="534.00" y="119" width="5" height="4" fill="#2db58c"/><path d="M544.50 119.9V123.6" stroke="#eb4757" stroke-width="1"/><rect x="542.00" y="120" width="5" height="3" fill="#eb4757"/><path d="M551.50 110.0V120.9" stroke="#eb4757" stroke-width="1"/><rect x="549.00" y="111" width="5" height="9" fill="#eb4757"/><path d="M559.50 103.5V116.7" stroke="#eb4757" stroke-width="1"/><rect x="557.00" y="108" width="5" height="4" fill="#eb4757"/><path d="M566.50 100.5V108.9" stroke="#eb4757" stroke-width="1"/><rect x="564.00" y="106" width="5" height="3" fill="#eb4757"/><path d="M573.50 98.2V106.8" stroke="#eb4757" stroke-width="1"/><rect x="571.00" y="100" width="5" height="7" fill="#eb4757"/><path d="M581.50 99.5V109.8" stroke="#2db58c" stroke-width="1"/><rect x="579.00" y="100" width="5" height="7" fill="#2db58c"/><path d="M588.50 96.7V108.7" stroke="#eb4757" stroke-width="1"/><rect x="586.00" y="105" width="5" height="2" fill="#eb4757"/><path d="M596.50 75.3V106.8" stroke="#eb4757" stroke-width="1"/><rect x="594.00" y="82" width="5" height="24" fill="#eb4757"/><path d="M603.50 56.2V91.9" stroke="#eb4757" stroke-width="1"/><rect x="601.00" y="69" width="5" height="14" fill="#eb4757"/><path d="M610.50 53.2V72.6" stroke="#2db58c" stroke-width="1"/><rect x="608.00" y="69" width="5" height="3" fill="#2db58c"/><path d="M618.50 63.5V81.0" stroke="#eb4757" stroke-width="1"/><rect x="616.00" y="69" width="5" height="3" fill="#eb4757"/><path d="M625.50 53.0V79.5" stroke="#2db58c" stroke-width="1"/><rect x="623.00" y="69" width="5" height="6" fill="#2db58c"/><path d="M633.50 54.3V76.3" stroke="#eb4757" stroke-width="1"/><rect x="631.00" y="62" width="5" height="13" fill="#eb4757"/><path d="M640.50 45.9V64.1" stroke="#eb4757" stroke-width="1"/><rect x="638.00" y="47" width="5" height="16" fill="#eb4757"/><path d="M648.50 27.3V56.7" stroke="#2db58c" stroke-width="1"/><rect x="646.00" y="47" width="5" height="8" fill="#2db58c"/><path d="M655.50 49.7V65.7" stroke="#2db58c" stroke-width="1"/><rect x="653.00" y="54" width="5" height="4" fill="#2db58c"/><path d="M662.50 54.1V69.4" stroke="#2db58c" stroke-width="1"/><rect x="660.00" y="57" width="5" height="5" fill="#2db58c"/><path d="M670.50 46.2V72.7" stroke="#2db58c" stroke-width="1"/><rect x="668.00" y="61" width="5" height="3" fill="#2db58c"/><path d="M677.50 48.3V64.1" stroke="#eb4757" stroke-width="1"/><rect x="675.00" y="53" width="5" height="11" fill="#eb4757"/><path d="M685.50 47.8V64.1" stroke="#2db58c" stroke-width="1"/><rect x="683.00" y="53" width="5" height="11" fill="#2db58c"/><path d="M692.50 49.7V69.9" stroke="#eb4757" stroke-width="1"/><rect x="690.00" y="54" width="5" height="10" fill="#eb4757"/><path d="M699.50 53.2V67.1" stroke="#2db58c" stroke-width="1"/><rect x="697.00" y="54" width="5" height="11" fill="#2db58c"/><path d="M707.50 57.1V83.1" stroke="#2db58c" stroke-width="1"/><rect x="705.00" y="64" width="5" height="17" fill="#2db58c"/><path d="M714.50 79.2V117.4" stroke="#2db58c" stroke-width="1"/><rect x="712.00" y="80" width="5" height="27" fill="#2db58c"/><path d="M722.50 96.5V116.7" stroke="#2db58c" stroke-width="1"/><rect x="720.00" y="106" width="5" height="6" fill="#2db58c"/><path d="M729.50 106.3V123.7" stroke="#eb4757" stroke-width="1"/><rect x="727.00" y="110" width="5" height="4" fill="#eb4757"/><path d="M736.50 103.0V116.7" stroke="#2db58c" stroke-width="1"/><rect x="734.00" y="110" width="5" height="2" fill="#2db58c"/><path d="M744.50 110.9V142.9" stroke="#2db58c" stroke-width="1"/><rect x="742.00" y="111" width="5" height="20" fill="#2db58c"/><path d="M751.50 122.1V135.3" stroke="#2db58c" stroke-width="1"/><rect x="749.00" y="130" width="5" height="4" fill="#2db58c"/><path d="M759.50 129.5V155.2" stroke="#2db58c" stroke-width="1"/><rect x="757.00" y="134" width="5" height="11" fill="#2db58c"/><path d="M766.50 122.1V149.4" stroke="#eb4757" stroke-width="1"/><rect x="764.00" y="128" width="5" height="17" fill="#eb4757"/><path d="M773.50 120.2V137.8" stroke="#2db58c" stroke-width="1"/><rect x="771.00" y="128" width="5" height="7" fill="#2db58c"/><path d="M781.50 118.1V136.0" stroke="#eb4757" stroke-width="1"/><rect x="779.00" y="120" width="5" height="15" fill="#eb4757"/><path d="M788.50 114.6V129.0" stroke="#eb4757" stroke-width="1"/><rect x="786.00" y="117" width="5" height="3" fill="#eb4757"/><path d="M796.50 108.1V129.0" stroke="#2db58c" stroke-width="1"/><rect x="794.00" y="117" width="5" height="8" fill="#2db58c"/><path d="M803.50 120.2V142.2" stroke="#2db58c" stroke-width="1"/><rect x="801.00" y="124" width="5" height="11" fill="#2db58c"/><path d="M810.50 129.0V143.6" stroke="#eb4757" stroke-width="1"/><rect x="808.00" y="130" width="5" height="5" fill="#eb4757"/><path d="M818.50 115.8V137.8" stroke="#eb4757" stroke-width="1"/><rect x="816.00" y="124" width="5" height="7" fill="#eb4757"/><path d="M825.50 117.4V124.8" stroke="#eb4757" stroke-width="1"/><rect x="823.00" y="121" width="5" height="3" fill="#eb4757"/><path d="M833.50 117.4V121.6" stroke="#eb4757" stroke-width="1"/><rect x="831.00" y="120" width="5" height="2" fill="#eb4757"/><path d="M840.50 118.6V123.9" stroke="#2db58c" stroke-width="1"/><rect x="838.00" y="120" width="5" height="2" fill="#2db58c"/><path d="M847.50 112.3V124.8" stroke="#2db58c" stroke-width="1"/><rect x="845.00" y="120" width="5" height="2" fill="#2db58c"/><path d="M855.50 120.4V129.0" stroke="#2db58c" stroke-width="1"/><rect x="853.00" y="121" width="5" height="6" fill="#2db58c"/><path d="M862.50 122.8V159.8" stroke="#2db58c" stroke-width="1"/><rect x="860.00" y="126" width="5" height="28" fill="#2db58c"/><path d="M870.50 140.4V165.9" stroke="#eb4757" stroke-width="1"/><rect x="868.00" y="145" width="5" height="9" fill="#eb4757"/><path d="M877.50 141.5V154.6" stroke="#2db58c" stroke-width="1"/><rect x="875.00" y="145" width="5" height="9" fill="#2db58c"/><path d="M884.50 151.3V168.7" stroke="#2db58c" stroke-width="1"/><rect x="882.00" y="153" width="5" height="14" fill="#2db58c"/><path d="M892.50 150.2V167.2" stroke="#eb4757" stroke-width="1"/><rect x="890.00" y="154" width="5" height="13" fill="#eb4757"/><path d="M899.50 153.1V167.2" stroke="#2db58c" stroke-width="1"/><rect x="897.00" y="154" width="5" height="13" fill="#2db58c"/><path d="M907.50 160.5V182.4" stroke="#2db58c" stroke-width="1"/><rect x="905.00" y="166" width="5" height="7" fill="#2db58c"/><path d="M914.50 158.9V180.7" stroke="#eb4757" stroke-width="1"/><rect x="912.00" y="168" width="5" height="5" fill="#eb4757"/><path d="M921.50 153.1V179.6" stroke="#eb4757" stroke-width="1"/><rect x="919.00" y="164" width="5" height="5" fill="#eb4757"/><path d="M929.50 105.7V171.5" stroke="#eb4757" stroke-width="1"/><rect x="927.00" y="130" width="5" height="35" fill="#eb4757"/><path d="M936.50 99.8V138.3" stroke="#eb4757" stroke-width="1"/><rect x="934.00" y="129" width="5" height="2" fill="#eb4757"/><path d="M944.50 110.0V131.1" stroke="#eb4757" stroke-width="1"/><rect x="942.00" y="120" width="5" height="11" fill="#eb4757"/><path d="M951.50 114.4V124.8" stroke="#eb4757" stroke-width="1"/><rect x="949.00" y="116" width="5" height="5" fill="#eb4757"/><path d="M959.50 112.6V127.8" stroke="#2db58c" stroke-width="1"/><rect x="957.00" y="116" width="5" height="8" fill="#2db58c"/><path d="M966.50 106.7V130.7" stroke="#eb4757" stroke-width="1"/><rect x="964.00" y="109" width="5" height="15" fill="#eb4757"/><path d="M973.50 107.4V117.2" stroke="#2db58c" stroke-width="1"/><rect x="971.00" y="109" width="5" height="4" fill="#2db58c"/><path d="M981.50 111.1V142.0" stroke="#2db58c" stroke-width="1"/><rect x="979.00" y="112" width="5" height="23" fill="#2db58c"/><path d="M988.50 132.4V152.8" stroke="#2db58c" stroke-width="1"/><rect x="986.00" y="136" width="5" height="8" fill="#2db58c"/><path d="M996.50 117.6V145.9" stroke="#eb4757" stroke-width="1"/><rect x="994.00" y="123" width="5" height="21" fill="#eb4757"/><path d="M1003.50 113.3V125.7" stroke="#eb4757" stroke-width="1"/><rect x="1001.00" y="120" width="5" height="4" fill="#eb4757"/><path d="M1010.50 108.3V120.9" stroke="#eb4757" stroke-width="1"/><rect x="1008.00" y="116" width="5" height="4" fill="#eb4757"/><path d="M1018.50 95.9V118.7" stroke="#eb4757" stroke-width="1"/><rect x="1016.00" y="102" width="5" height="15" fill="#eb4757"/><path d="M1025.50 97.4V122.4" stroke="#2db58c" stroke-width="1"/><rect x="1023.00" y="102" width="5" height="17" fill="#2db58c"/><path d="M1033.50 100.7V120.9" stroke="#eb4757" stroke-width="1"/><rect x="1031.00" y="117" width="5" height="2" fill="#eb4757"/><path d="M1040.50 103.0V121.3" stroke="#eb4757" stroke-width="1"/><rect x="1038.00" y="109" width="5" height="9" fill="#eb4757"/><path d="M1047.50 106.3V120.2" stroke="#2db58c" stroke-width="1"/><rect x="1045.00" y="109" width="5" height="7" fill="#2db58c"/><path d="M1055.50 115.4V137.2" stroke="#2db58c" stroke-width="1"/><rect x="1053.00" y="116" width="5" height="16" fill="#2db58c"/><path d="M1062.50 129.6V148.0" stroke="#2db58c" stroke-width="1"/><rect x="1060.00" y="131" width="5" height="16" fill="#2db58c"/><path d="M1070.50 134.2V158.8" stroke="#2db58c" stroke-width="1"/><rect x="1068.00" y="146" width="5" height="5" fill="#2db58c"/><path d="M1077.50 148.2V166.9" stroke="#2db58c" stroke-width="1"/><rect x="1075.00" y="150" width="5" height="11" fill="#2db58c"/><path d="M1084.50 142.3V161.8" stroke="#eb4757" stroke-width="1"/><rect x="1082.00" y="155" width="5" height="6" fill="#eb4757"/><path d="M1092.50 148.2V160.6" stroke="#2db58c" stroke-width="1"/><rect x="1090.00" y="155" width="5" height="2" fill="#2db58c"/><path d="M1099.50 151.8V164.4" stroke="#2db58c" stroke-width="1"/><rect x="1097.00" y="156" width="5" height="5" fill="#2db58c"/><path d="M1107.50 157.6V203.7" stroke="#2db58c" stroke-width="1"/><rect x="1105.00" y="160" width="5" height="36" fill="#2db58c"/><path d="M1114.50 193.2V212.3" stroke="#2db58c" stroke-width="1"/><rect x="1112.00" y="195" width="5" height="12" fill="#2db58c"/><path d="M1121.50 202.2V216.9" stroke="#2db58c" stroke-width="1"/><rect x="1119.00" y="206" width="5" height="2" fill="#2db58c"/><path d="M1129.50 200.1V211.7" stroke="#eb4757" stroke-width="1"/><rect x="1127.00" y="200" width="5" height="8" fill="#eb4757"/><path d="M1136.50 198.0V209.6" stroke="#2db58c" stroke-width="1"/><rect x="1134.00" y="200" width="5" height="5" fill="#2db58c"/><path d="M1144.50 197.1V205.8" stroke="#eb4757" stroke-width="1"/><rect x="1142.00" y="197" width="5" height="8" fill="#eb4757"/><path d="M1151.50 197.0V205.8" stroke="#2db58c" stroke-width="1"/><rect x="1149.00" y="197" width="5" height="6" fill="#2db58c"/><path d="M1158.50 182.9V203.7" stroke="#eb4757" stroke-width="1"/><rect x="1156.00" y="190" width="5" height="13" fill="#eb4757"/><path d="M1166.50 186.9V194.9" stroke="#2db58c" stroke-width="1"/><rect x="1164.00" y="190" width="5" height="2" fill="#2db58c"/><path d="M1173.50 188.5V202.8" stroke="#2db58c" stroke-width="1"/><rect x="1171.00" y="191" width="5" height="11" fill="#2db58c"/><path d="M1181.50 186.4V202.8" stroke="#eb4757" stroke-width="1"/><rect x="1179.00" y="191" width="5" height="11" fill="#eb4757"/><path d="M1188.50 190.0V197.0" stroke="#2db58c" stroke-width="1"/><rect x="1186.00" y="191" width="5" height="5" fill="#2db58c"/><path d="M1195.50 188.5V200.1" stroke="#eb4757" stroke-width="1"/><rect x="1193.00" y="192" width="5" height="4" fill="#eb4757"/><path d="M1203.50 190.6V201.6" stroke="#2db58c" stroke-width="1"/><rect x="1201.00" y="192" width="5" height="7" fill="#2db58c"/><path d="M1210.50 195.3V205.4" stroke="#2db58c" stroke-width="1"/><rect x="1208.00" y="198" width="5" height="4" fill="#2db58c"/><path d="M1218.50 192.3V228.5" stroke="#2db58c" stroke-width="1"/><rect x="1216.00" y="202" width="5" height="6" fill="#2db58c"/><path d="M1225.50 179.1V212.1" stroke="#eb4757" stroke-width="1"/><rect x="1223.00" y="186" width="5" height="22" fill="#eb4757"/><path d="M1232.50 173.4V186.9" stroke="#eb4757" stroke-width="1"/><rect x="1230.00" y="177" width="5" height="9" fill="#eb4757"/><path d="M1240.50 169.0V181.6" stroke="#eb4757" stroke-width="1"/><rect x="1238.00" y="176" width="5" height="2" fill="#eb4757"/><path d="M1247.50 166.5V186.9" stroke="#2db58c" stroke-width="1"/><rect x="1245.00" y="176" width="5" height="1" fill="#2db58c"/><path d="M1255.50 176.6V203.7" stroke="#2db58c" stroke-width="1"/><rect x="1253.00" y="177" width="5" height="25" fill="#2db58c"/></g>
<path d="M0.0 198.6 C2.8 198.4 11.0 197.9 16.6 197.7 C22.1 197.6 27.6 197.3 33.1 197.4 C38.6 197.6 44.2 198.4 49.7 198.6 C55.2 198.8 62.1 198.7 66.2 198.6 C70.4 198.5 71.7 198.4 74.5 198.1 C77.3 197.8 80.0 197.3 82.8 196.9 C85.5 196.5 88.3 196.3 91.1 195.8 C93.8 195.2 96.6 194.2 99.3 193.6 C102.1 193.0 104.9 192.6 107.6 192.0 C110.4 191.3 113.1 190.3 115.9 189.5 C118.7 188.6 121.4 187.8 124.2 187.0 C126.9 186.2 129.7 185.3 132.5 184.5 C135.2 183.7 138.0 183.2 140.7 182.4 C143.5 181.5 146.2 180.4 149.0 179.5 C151.8 178.7 154.5 177.9 157.3 177.1 C160.0 176.2 162.8 175.4 165.6 174.6 C168.3 173.7 171.1 172.9 173.8 172.1 C176.6 171.3 179.4 170.6 182.1 169.9 C184.9 169.3 187.6 168.7 190.4 168.3 C193.2 167.9 195.9 167.7 198.7 167.5 C201.4 167.2 203.4 167.1 207.0 166.8 C210.5 166.5 214.7 165.6 220.0 165.5 C225.4 165.3 231.9 165.5 239.0 165.7 C246.1 165.9 254.8 166.7 262.8 166.9 C270.8 167.2 278.8 167.3 286.8 167.2 C294.8 167.1 304.7 167.0 310.7 166.5 C316.7 166.0 318.7 165.0 322.7 164.1 C326.7 163.2 330.6 161.9 334.6 161.0 C338.6 160.1 342.6 159.3 346.6 158.6 C350.6 157.9 354.5 157.5 358.5 156.9 C362.5 156.3 366.5 155.7 370.5 155.2 C374.5 154.7 378.5 154.3 382.5 153.8 C386.5 153.3 390.4 152.7 394.4 152.1 C398.4 151.5 402.4 151.0 406.4 150.4 C410.4 149.8 414.4 148.9 418.3 148.5 C422.2 148.1 426.3 148.3 430.0 147.8 C433.7 147.3 437.0 145.9 440.5 145.5 C444.0 145.1 447.5 145.7 451.0 145.5 C454.5 145.3 458.0 144.8 461.5 144.4 C465.0 144.0 468.5 143.6 472.0 143.0 C475.5 142.4 479.1 141.6 482.6 140.9 C486.1 140.2 489.6 139.4 493.1 138.8 C496.6 138.2 500.1 137.8 503.6 137.3 C507.1 136.8 510.6 136.3 514.1 136.0 C517.6 135.7 521.1 135.6 524.6 135.6 C528.1 135.6 531.6 135.7 535.1 136.0 C538.6 136.3 542.1 136.8 545.6 137.3 C549.1 137.8 552.6 138.8 556.1 139.2 C559.6 139.5 563.1 139.4 566.6 139.4 C570.1 139.4 573.7 139.4 577.2 139.4 C580.7 139.4 584.2 139.5 587.7 139.4 C591.2 139.3 594.7 139.1 598.2 138.8 C601.7 138.5 605.2 138.2 608.7 137.7 C612.2 137.2 615.7 136.6 619.2 136.0 C622.7 135.4 626.2 134.7 629.7 133.9 C633.2 133.1 637.7 132.0 640.2 131.4 C642.8 130.8 642.3 131.0 645.0 130.2 C647.7 129.4 652.7 127.8 656.6 126.7 C660.5 125.6 664.3 124.8 668.2 123.7 C672.1 122.6 675.9 121.3 679.8 120.2 C683.7 119.1 687.5 118.0 691.4 117.0 C695.3 116.0 699.1 114.7 703.0 113.9 C706.9 113.1 710.7 112.8 714.6 112.1 C718.5 111.4 722.3 110.7 726.2 110.0 C730.1 109.3 733.9 108.6 737.8 108.1 C741.7 107.6 745.5 107.3 749.4 107.0 C753.3 106.7 755.2 106.7 761.0 106.5 C766.8 106.3 776.5 106.0 784.2 105.8 C791.9 105.6 799.7 105.5 807.4 105.4 C815.1 105.3 824.8 105.6 830.6 105.4 C836.4 105.2 838.3 104.4 842.2 104.2 C846.1 104.0 850.8 104.1 853.8 104.2 C856.8 104.3 855.4 104.4 860.0 104.6 C864.6 104.8 874.5 104.8 881.7 105.2 C889.0 105.6 896.2 106.0 903.5 106.7 C910.8 107.4 918.0 108.7 925.2 109.4 C932.5 110.1 939.8 110.4 947.0 110.7 C954.2 111.0 961.5 111.2 968.7 111.5 C976.0 111.8 983.2 112.0 990.5 112.2 C997.8 112.4 1005.0 112.5 1012.2 112.6 C1019.5 112.7 1028.6 112.6 1034.0 112.6 C1039.4 112.6 1041.2 112.5 1044.8 112.8 C1048.4 113.1 1053.2 114.0 1055.7 114.4 C1058.2 114.8 1057.5 115.0 1060.0 115.4 C1062.5 115.9 1067.0 116.5 1070.5 117.1 C1074.0 117.7 1077.5 118.4 1081.0 119.2 C1084.5 120.0 1088.0 120.9 1091.5 121.9 C1095.0 122.9 1098.5 124.0 1102.0 125.1 C1105.5 126.2 1109.1 127.4 1112.6 128.6 C1116.1 129.8 1119.6 131.2 1123.1 132.4 C1126.6 133.6 1130.1 134.5 1133.6 135.6 C1137.1 136.7 1140.6 138.2 1144.1 139.1 C1147.6 140.0 1151.1 140.4 1154.6 141.2 C1158.1 142.0 1161.6 143.1 1165.1 143.8 C1168.6 144.5 1172.1 144.9 1175.6 145.5 C1179.1 146.1 1182.6 146.8 1186.1 147.1 C1189.6 147.4 1193.1 147.2 1196.6 147.6 C1200.1 148.0 1203.7 149.1 1207.2 149.7 C1210.7 150.3 1214.2 150.9 1217.7 151.3 C1221.2 151.8 1224.7 151.9 1228.2 152.4 C1231.7 152.9 1235.2 154.0 1238.7 154.3 C1242.2 154.7 1246.4 154.2 1249.2 154.5 C1252.0 154.8 1254.4 156.1 1255.4 156.4" fill="none" stroke="#ea5bc4" stroke-width="1.2"/>
<path d="M0.0 194.4 C2.8 194.3 11.0 193.7 16.6 193.6 C22.1 193.5 29.0 193.5 33.1 193.6 C37.3 193.7 38.6 194.4 41.4 194.4 C44.2 194.5 46.9 194.4 49.7 194.1 C52.4 193.8 55.2 193.1 57.9 192.8 C60.7 192.5 63.5 192.4 66.2 192.3 C69.0 192.1 72.3 192.2 74.5 192.0 C76.7 191.7 77.5 191.5 79.5 190.8 C81.4 190.1 83.9 189.0 86.1 187.8 C88.3 186.6 90.5 185.2 92.7 183.7 C94.9 182.2 96.9 180.4 99.3 178.7 C101.8 177.1 104.9 175.5 107.6 173.7 C110.4 171.9 113.1 169.9 115.9 167.9 C118.7 166.0 121.4 164.1 124.2 162.2 C126.9 160.2 129.7 157.9 132.5 156.4 C135.2 154.8 138.0 153.8 140.7 152.7 C143.5 151.6 146.2 150.6 149.0 149.7 C151.8 148.8 154.5 148.0 157.3 147.3 C160.0 146.5 162.8 145.8 165.6 145.1 C168.3 144.4 171.1 143.7 173.8 143.1 C176.6 142.5 179.4 142.0 182.1 141.5 C184.9 140.9 187.6 140.3 190.4 139.8 C193.2 139.3 195.9 138.9 198.7 138.5 C201.4 138.1 203.4 137.7 207.0 137.3 C210.5 136.9 216.7 136.1 220.0 136.2 C223.4 136.2 221.9 137.1 227.0 137.8 C232.1 138.5 242.9 139.6 250.9 140.1 C258.9 140.6 266.8 139.9 274.8 140.6 C282.8 141.3 292.7 143.1 298.7 144.2 C304.7 145.3 306.7 146.0 310.7 147.3 C314.7 148.6 318.7 150.7 322.7 152.1 C326.7 153.5 330.6 154.8 334.6 155.7 C338.6 156.6 342.6 157.1 346.6 157.6 C350.6 158.1 354.5 158.3 358.5 158.8 C362.5 159.3 366.5 160.0 370.5 160.5 C374.5 161.0 378.5 161.4 382.5 161.7 C386.5 162.0 390.4 162.4 394.4 162.4 C398.4 162.4 402.4 162.2 406.4 161.7 C410.4 161.2 414.4 160.0 418.3 159.3 C422.2 158.6 426.3 158.3 430.0 157.7 C433.7 157.1 437.0 156.4 440.5 155.6 C444.0 154.8 447.5 153.8 451.0 152.9 C454.5 152.0 458.0 150.9 461.5 149.9 C465.0 148.9 468.5 148.0 472.0 146.8 C475.5 145.7 479.1 144.3 482.6 143.0 C486.1 141.7 489.6 140.2 493.1 138.8 C496.6 137.4 500.1 136.0 503.6 134.6 C507.1 133.2 510.6 131.5 514.1 130.4 C517.6 129.3 521.1 128.6 524.6 127.8 C528.1 127.0 531.6 126.4 535.1 125.7 C538.6 125.0 542.1 124.1 545.6 123.6 C549.1 123.0 552.6 122.9 556.1 122.4 C559.6 121.9 563.1 120.9 566.6 120.5 C570.1 120.1 573.7 120.4 577.2 119.9 C580.7 119.5 584.2 118.5 587.7 117.8 C591.2 117.1 594.7 116.5 598.2 115.6 C601.7 114.7 605.2 113.4 608.7 112.5 C612.2 111.6 615.7 110.9 619.2 110.0 C622.7 109.1 626.2 108.3 629.7 107.2 C633.2 106.1 637.7 104.3 640.2 103.5 C642.8 102.7 642.3 103.2 645.0 102.3 C647.7 101.4 652.7 99.5 656.6 98.2 C660.5 96.9 664.3 95.5 668.2 94.2 C672.1 93.0 675.9 91.7 679.8 90.7 C683.7 89.7 687.9 88.7 691.4 88.0 C694.9 87.3 696.8 86.8 700.7 86.6 C704.6 86.4 708.4 86.6 714.6 86.6 C720.8 86.6 730.1 86.6 737.8 86.8 C745.5 87.0 755.2 87.7 761.0 88.0 C766.8 88.3 768.7 88.7 772.6 88.9 C776.5 89.1 780.3 88.9 784.2 89.1 C788.1 89.3 791.9 89.8 795.8 90.3 C799.7 90.8 803.5 91.4 807.4 91.9 C811.3 92.4 815.1 92.9 819.0 93.5 C822.9 94.1 826.7 94.7 830.6 95.4 C834.5 96.1 838.3 96.7 842.2 97.7 C846.1 98.7 850.8 100.1 853.8 101.2 C856.8 102.3 856.2 102.4 860.0 104.1 C863.8 105.8 871.0 108.9 876.6 111.5 C882.1 114.1 887.6 117.1 893.1 119.8 C898.6 122.5 904.8 125.5 909.7 127.7 C914.5 130.0 917.9 132.2 922.1 133.5 C926.2 134.8 930.5 135.1 934.5 135.5 C938.5 136.0 942.0 136.3 946.1 136.4 C950.2 136.4 954.4 136.2 959.3 136.0 C964.3 135.8 970.4 135.2 975.9 135.0 C981.4 134.9 986.9 135.1 992.5 135.0 C998.0 135.0 1003.5 135.0 1009.0 134.7 C1014.5 134.4 1020.0 133.7 1025.6 133.4 C1031.1 133.0 1038.0 132.7 1042.1 132.5 C1046.3 132.4 1047.6 132.6 1050.4 132.7 C1053.2 132.9 1055.9 133.0 1058.7 133.4 C1061.4 133.7 1063.4 134.4 1067.0 134.7 C1070.5 135.0 1075.9 135.0 1080.0 135.2 C1084.1 135.4 1087.8 135.7 1091.5 136.0 C1095.2 136.3 1098.5 136.5 1102.0 137.0 C1105.5 137.5 1109.1 138.5 1112.6 139.1 C1116.1 139.7 1119.6 140.1 1123.1 140.6 C1126.6 141.1 1130.1 141.6 1133.6 142.3 C1137.1 143.0 1140.6 143.9 1144.1 144.8 C1147.6 145.7 1151.1 146.5 1154.6 147.6 C1158.1 148.7 1161.6 150.1 1165.1 151.3 C1168.6 152.5 1172.1 153.7 1175.6 154.9 C1179.1 156.1 1182.6 157.5 1186.1 158.7 C1189.6 159.8 1193.1 160.7 1196.6 161.8 C1200.1 162.9 1203.7 164.3 1207.2 165.4 C1210.7 166.5 1214.2 167.6 1217.7 168.6 C1221.2 169.6 1224.7 170.3 1228.2 171.3 C1231.7 172.3 1235.2 173.5 1238.7 174.5 C1242.2 175.5 1246.4 176.6 1249.2 177.4 C1252.0 178.2 1254.4 178.8 1255.4 179.1" fill="none" stroke="#f9b120" stroke-width="1.2"/>
<path d="M0.0 206.0 C2.8 205.1 11.0 202.2 16.6 200.2 C22.1 198.3 29.0 196.0 33.1 194.4 C37.3 192.9 38.6 192.3 41.4 191.1 C44.2 190.0 46.9 188.7 49.7 187.5 C52.4 186.2 55.2 184.7 57.9 183.7 C60.7 182.7 63.5 182.2 66.2 181.5 C69.0 180.8 71.7 180.6 74.5 179.5 C77.3 178.5 80.0 177.1 82.8 175.4 C85.5 173.7 88.3 171.8 91.1 169.6 C93.8 167.4 96.6 164.4 99.3 162.2 C102.1 159.9 104.9 158.4 107.6 156.4 C110.4 154.3 113.1 151.9 115.9 149.7 C118.7 147.5 121.4 145.3 124.2 143.1 C126.9 140.9 129.7 138.4 132.5 136.5 C135.2 134.6 138.0 132.8 140.7 131.5 C143.5 130.2 146.2 129.4 149.0 128.5 C151.8 127.7 154.5 126.8 157.3 126.2 C160.0 125.6 162.8 125.3 165.6 124.9 C168.3 124.5 171.1 124.1 173.8 123.6 C176.6 123.1 179.4 122.3 182.1 121.9 C184.9 121.5 187.6 121.3 190.4 121.3 C193.2 121.2 195.9 121.5 198.7 121.6 C201.4 121.7 203.4 121.7 207.0 121.9 C210.5 122.1 217.1 122.5 220.0 122.7 C223.0 123.0 222.3 122.5 224.6 123.4 C226.9 124.3 229.7 125.5 234.1 128.2 C238.5 130.9 246.1 136.3 250.9 139.7 C255.7 143.1 258.8 145.4 262.8 148.5 C266.8 151.6 270.8 155.4 274.8 158.1 C278.8 160.8 282.8 162.9 286.8 164.8 C290.8 166.7 294.7 168.0 298.7 169.6 C302.7 171.2 306.7 173.2 310.7 174.4 C314.7 175.6 318.7 176.2 322.7 176.5 C326.7 176.8 330.6 176.7 334.6 176.0 C338.6 175.3 342.6 173.8 346.6 172.4 C350.6 171.0 354.5 169.1 358.5 167.7 C362.5 166.3 366.5 165.3 370.5 164.1 C374.5 162.9 378.5 161.7 382.5 160.5 C386.5 159.3 390.4 158.3 394.4 156.9 C398.4 155.5 402.4 153.5 406.4 152.1 C410.4 150.7 414.4 149.6 418.3 148.5 C422.2 147.4 426.3 147.0 430.0 145.7 C433.7 144.4 437.0 142.4 440.5 140.9 C444.0 139.4 447.5 137.9 451.0 136.7 C454.5 135.5 458.0 134.7 461.5 133.5 C465.0 132.3 468.5 130.8 472.0 129.7 C475.5 128.6 479.1 127.7 482.6 126.8 C486.1 125.9 489.6 124.5 493.1 124.1 C496.6 123.6 500.1 124.2 503.6 124.1 C507.1 124.0 510.6 123.6 514.1 123.4 C517.6 123.2 521.1 123.3 524.6 123.0 C528.1 122.7 531.6 122.0 535.1 121.3 C538.6 120.6 542.1 119.4 545.6 118.8 C549.1 118.2 552.6 118.3 556.1 117.8 C559.6 117.3 563.1 116.5 566.6 115.6 C570.1 114.7 573.7 113.3 577.2 112.5 C580.7 111.7 584.2 111.6 587.7 110.8 C591.2 110.0 594.7 109.0 598.2 107.9 C601.7 106.8 605.2 105.3 608.7 104.1 C612.2 102.9 615.7 101.8 619.2 100.9 C622.7 100.0 626.2 99.6 629.7 98.8 C633.2 98.0 637.7 96.7 640.2 96.1 C642.8 95.5 642.3 96.4 645.0 95.4 C647.7 94.4 652.7 91.9 656.6 90.3 C660.5 88.7 664.3 87.2 668.2 85.6 C672.1 84.0 675.9 82.4 679.8 80.8 C683.7 79.2 687.9 77.4 691.4 76.1 C694.9 74.8 696.8 73.6 700.7 72.9 C704.6 72.2 710.4 72.1 714.6 72.2 C718.9 72.3 722.3 73.1 726.2 73.4 C730.1 73.7 733.9 73.0 737.8 73.8 C741.7 74.6 745.5 77.0 749.4 78.5 C753.3 80.0 757.1 81.5 761.0 83.1 C764.9 84.7 768.7 86.5 772.6 88.0 C776.5 89.5 780.3 90.8 784.2 92.4 C788.1 94.0 791.9 95.9 795.8 97.7 C799.7 99.5 803.5 101.6 807.4 103.5 C811.3 105.4 815.1 107.6 819.0 109.3 C822.9 111.0 826.7 112.4 830.6 113.9 C834.5 115.5 838.3 117.2 842.2 118.6 C846.1 120.0 850.8 121.3 853.8 122.5 C856.8 123.7 857.6 124.8 860.0 125.6 C862.4 126.4 865.5 126.6 868.3 127.3 C871.0 127.9 873.8 128.9 876.6 129.7 C879.3 130.6 882.1 131.5 884.8 132.2 C887.6 132.9 890.4 133.3 893.1 133.9 C895.9 134.4 898.6 135.0 901.4 135.5 C904.2 136.1 906.2 136.4 909.7 137.2 C913.1 138.0 917.9 139.5 922.1 140.2 C926.2 140.9 930.5 141.1 934.5 141.3 C938.5 141.5 942.0 141.6 946.1 141.3 C950.2 141.0 954.6 140.1 959.3 139.7 C964.0 139.2 970.7 138.5 974.2 138.5 C977.8 138.5 978.4 139.4 980.9 139.7 C983.3 139.9 985.8 139.9 989.1 140.0 C992.5 140.1 997.4 140.5 1000.7 140.2 C1004.0 139.8 1006.2 138.8 1009.0 138.0 C1011.8 137.2 1014.5 136.3 1017.3 135.5 C1020.0 134.8 1022.8 134.1 1025.6 133.4 C1028.3 132.7 1031.1 132.1 1033.8 131.4 C1036.6 130.6 1039.4 129.7 1042.1 128.9 C1044.9 128.1 1047.6 127.1 1050.4 126.4 C1053.2 125.7 1055.4 125.3 1058.7 124.8 C1062.0 124.2 1066.7 123.0 1070.3 123.1 C1073.8 123.3 1076.5 124.8 1080.0 125.6 C1083.6 126.3 1087.8 126.7 1091.5 127.6 C1095.2 128.5 1098.5 129.5 1102.0 131.2 C1105.5 132.9 1109.1 135.6 1112.6 137.7 C1116.1 139.8 1119.6 142.0 1123.1 143.8 C1126.6 145.6 1130.1 146.8 1133.6 148.6 C1137.1 150.3 1140.6 152.6 1144.1 154.3 C1147.6 156.1 1151.1 157.2 1154.6 159.1 C1158.1 160.9 1161.6 163.5 1165.1 165.4 C1168.6 167.3 1172.1 168.8 1175.6 170.7 C1179.1 172.6 1182.6 174.8 1186.1 176.6 C1189.6 178.3 1193.1 179.7 1196.6 181.2 C1200.1 182.7 1203.7 184.3 1207.2 185.8 C1210.7 187.3 1214.2 188.9 1217.7 190.0 C1221.2 191.1 1224.7 191.5 1228.2 192.1 C1231.7 192.7 1235.2 193.2 1238.7 193.8 C1242.2 194.4 1246.4 195.2 1249.2 195.5 C1252.0 195.8 1254.4 195.8 1255.4 195.9" fill="none" stroke="#4fd1b9" stroke-width="1.2"/>
<line x1="0" y1="36.4" x2="1265" y2="36.4" stroke="#a626e2" stroke-width="1.1"/>
<text x="1262.6" y="31" text-anchor="end" fill="#a626e2" font-size="12" font-family="Liberation Sans, sans-serif">0.236(75472.4)</text>
<text x="589.8" y="30" fill="#16181c" font-size="12" font-family="Liberation Sans, sans-serif">75998.9</text>
<path d="M637.2 27.2H644.6M642 25L644.6 27.2L642 29.4" stroke="#16181c" stroke-width="1" fill="none"/>
<g font-family="Liberation Sans, sans-serif" font-size="12" fill="#8a8f9b" text-anchor="middle"><text x="1297" y="33.0">75880.2</text><text x="1297" y="83.0">72971.3</text><text x="1297" y="133.0">70173.9</text><text x="1297" y="182.8">67483.8</text><text x="1297" y="232.8">64896.8</text><text x="1297" y="283.1">62409.0</text><text x="1297" y="324.8">1500.0</text><text x="1297" y="355.1">1000.0</text><text x="1297" y="385.2">500.0</text><text x="1297" y="414.0">0.0</text><text x="1297" y="444.1">-500.0</text><text x="1297" y="474.0">-1000.0</text><text x="1297" y="524.8">75000.0</text><text x="1297" y="587.0">70000.0</text><text x="1297" y="649.2">65000.0</text></g>
<rect x="1265" y="191" width="64" height="19.8" fill="#2db58c"/>
<line x1="1265" y1="201.1" x2="1270.7" y2="201.1" stroke="#fff" stroke-width="1.2"/>
<text x="1297" y="205.4" text-anchor="middle" fill="#fff" font-weight="bold" font-size="12" font-family="Liberation Sans, sans-serif">66348.4</text>
<rect x="1327" y="315" width="6" height="37.7" rx="1.5" fill="#dddddd"/>
<defs><filter id="bl" x="-50%" y="-50%" width="200%" height="200%"><feGaussianBlur stdDeviation="1.6"/></filter></defs><circle cx="1341.5" cy="615.3" r="14.5" fill="#e2e2e2" filter="url(#bl)"/><circle cx="1341.5" cy="615" r="13.6" fill="#fff"/>
<text x="631.8" y="673.5" fill="#f24a4a" font-size="24" font-family="Liberation Sans, 'Noto Sans CJK SC', sans-serif">比特币四小时</text>
</svg>
</body></html>
